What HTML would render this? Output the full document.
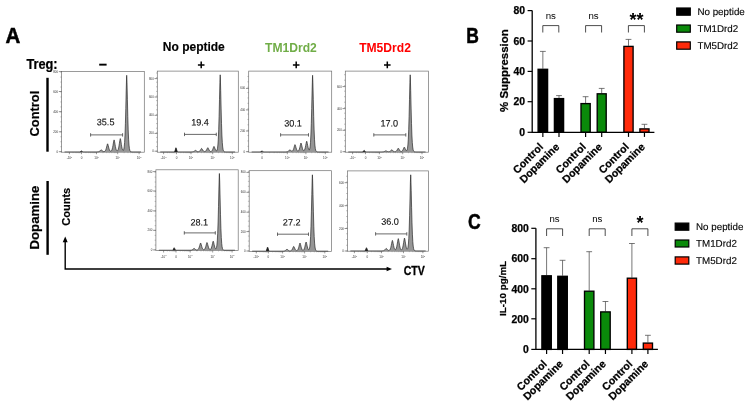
<!DOCTYPE html>
<html><head><meta charset="utf-8"><title>Figure</title>
<style>html,body{margin:0;padding:0;background:#fff;}svg{display:block;will-change:transform;}text{font-family:"Liberation Sans",sans-serif;}</style>
</head><body>
<svg width="751" height="406" viewBox="0 0 751 406">
<rect width="751" height="406" fill="#fff"/>
<rect x="61.6" y="71.6" width="82.7" height="80.6" fill="#fff" stroke="#707070" stroke-width="0.7"/>
<path d="M64.60,152.10 L64.60,151.90 L65.00,151.90 L65.40,151.90 L65.80,151.90 L66.20,151.90 L66.60,151.90 L67.00,151.90 L67.40,151.90 L67.80,151.90 L68.20,151.90 L68.60,151.90 L69.00,151.90 L69.40,151.90 L69.80,151.90 L70.20,151.90 L70.60,151.90 L71.00,151.90 L71.40,151.90 L71.80,151.90 L72.20,151.90 L72.60,151.90 L73.00,151.90 L73.40,151.90 L73.80,151.90 L74.20,151.90 L74.60,151.90 L75.00,151.90 L75.40,151.90 L75.80,151.90 L76.20,151.90 L76.60,151.90 L77.00,151.90 L77.40,151.90 L77.80,151.90 L78.20,151.90 L78.60,151.90 L79.00,151.90 L79.40,151.90 L79.80,151.89 L80.20,151.82 L80.60,151.59 L81.00,151.16 L81.40,150.82 L81.50,150.80 L81.80,150.94 L82.20,151.39 L82.60,151.73 L83.00,151.87 L83.40,151.90 L83.80,151.90 L84.20,151.90 L84.60,151.90 L85.00,151.90 L85.40,151.90 L85.80,151.90 L86.20,151.90 L86.60,151.90 L87.00,151.90 L87.40,151.90 L87.80,151.90 L88.20,151.90 L88.60,151.90 L89.00,151.90 L89.40,151.90 L89.80,151.90 L90.20,151.90 L90.60,151.90 L91.00,151.90 L91.40,151.90 L91.80,151.90 L92.20,151.90 L92.60,151.90 L93.00,151.90 L93.40,151.90 L93.80,151.90 L94.20,151.90 L94.60,151.90 L95.00,151.90 L95.40,151.90 L95.80,151.90 L96.20,151.90 L96.60,151.89 L97.00,151.89 L97.40,151.87 L97.80,151.85 L98.20,151.80 L98.60,151.71 L99.00,151.57 L99.40,151.35 L99.80,151.04 L100.20,150.65 L100.60,150.23 L101.00,149.88 L101.20,149.80 L101.40,149.88 L101.80,150.23 L102.20,150.65 L102.60,151.03 L103.00,151.33 L103.40,151.52 L103.80,151.61 L104.20,151.60 L104.60,151.46 L105.00,151.15 L105.40,150.61 L105.80,149.77 L106.20,148.59 L106.60,147.10 L107.00,145.47 L107.40,144.12 L107.60,143.80 L107.80,144.12 L108.20,145.47 L108.60,147.09 L109.00,148.58 L109.40,149.75 L109.80,150.57 L110.20,151.05 L110.60,151.26 L111.00,151.21 L111.40,150.88 L111.80,150.20 L112.20,149.09 L112.60,147.48 L113.00,145.37 L113.40,142.97 L113.80,140.78 L114.10,139.90 L114.20,140.06 L114.60,141.80 L115.00,144.18 L115.40,146.47 L115.80,148.32 L116.20,149.65 L116.60,150.46 L117.00,150.83 L117.40,150.80 L117.80,150.35 L118.20,149.42 L118.60,147.94 L119.00,145.88 L119.40,143.34 L119.80,140.70 L120.20,138.77 L120.30,138.60 L120.60,139.57 L121.00,142.00 L121.40,144.65 L121.80,146.98 L122.20,148.73 L122.60,149.86 L123.00,150.39 L123.40,150.25 L123.80,149.24 L124.20,146.90 L124.60,142.49 L125.00,135.05 L125.40,123.71 L125.80,108.38 L126.20,90.88 L126.60,76.72 L126.70,75.30 L127.00,82.80 L127.40,99.68 L127.80,116.50 L128.20,129.92 L128.60,139.25 L129.00,145.10 L129.40,148.46 L129.80,150.26 L130.20,151.16 L130.60,151.58 L131.00,151.77 L131.40,151.85 L131.80,151.88 L132.20,151.89 L132.60,151.90 L133.00,151.90 L133.40,151.90 L133.80,151.90 L134.20,151.90 L134.60,151.90 L135.00,151.90 L135.40,151.90 L135.80,151.90 L136.20,151.90 L136.60,151.90 L137.00,151.90 L137.40,151.90 L137.80,151.90 L138.20,151.90 L138.60,151.90 L139.00,151.90 L139.40,151.90 L139.80,151.90 L140.20,151.90 L140.60,151.90 L141.00,151.90 L141.00,152.10 Z" fill="#969696" stroke="none"/>
<path d="M64.60,151.90 L65.00,151.90 L65.40,151.90 L65.80,151.90 L66.20,151.90 L66.60,151.90 L67.00,151.90 L67.40,151.90 L67.80,151.90 L68.20,151.90 L68.60,151.90 L69.00,151.90 L69.40,151.90 L69.80,151.90 L70.20,151.90 L70.60,151.90 L71.00,151.90 L71.40,151.90 L71.80,151.90 L72.20,151.90 L72.60,151.90 L73.00,151.90 L73.40,151.90 L73.80,151.90 L74.20,151.90 L74.60,151.90 L75.00,151.90 L75.40,151.90 L75.80,151.90 L76.20,151.90 L76.60,151.90 L77.00,151.90 L77.40,151.90 L77.80,151.90 L78.20,151.90 L78.60,151.90 L79.00,151.90 L79.40,151.90 L79.80,151.89 L80.20,151.82 L80.60,151.59 L81.00,151.16 L81.40,150.82 L81.50,150.80 L81.80,150.94 L82.20,151.39 L82.60,151.73 L83.00,151.87 L83.40,151.90 L83.80,151.90 L84.20,151.90 L84.60,151.90 L85.00,151.90 L85.40,151.90 L85.80,151.90 L86.20,151.90 L86.60,151.90 L87.00,151.90 L87.40,151.90 L87.80,151.90 L88.20,151.90 L88.60,151.90 L89.00,151.90 L89.40,151.90 L89.80,151.90 L90.20,151.90 L90.60,151.90 L91.00,151.90 L91.40,151.90 L91.80,151.90 L92.20,151.90 L92.60,151.90 L93.00,151.90 L93.40,151.90 L93.80,151.90 L94.20,151.90 L94.60,151.90 L95.00,151.90 L95.40,151.90 L95.80,151.90 L96.20,151.90 L96.60,151.89 L97.00,151.89 L97.40,151.87 L97.80,151.85 L98.20,151.80 L98.60,151.71 L99.00,151.57 L99.40,151.35 L99.80,151.04 L100.20,150.65 L100.60,150.23 L101.00,149.88 L101.20,149.80 L101.40,149.88 L101.80,150.23 L102.20,150.65 L102.60,151.03 L103.00,151.33 L103.40,151.52 L103.80,151.61 L104.20,151.60 L104.60,151.46 L105.00,151.15 L105.40,150.61 L105.80,149.77 L106.20,148.59 L106.60,147.10 L107.00,145.47 L107.40,144.12 L107.60,143.80 L107.80,144.12 L108.20,145.47 L108.60,147.09 L109.00,148.58 L109.40,149.75 L109.80,150.57 L110.20,151.05 L110.60,151.26 L111.00,151.21 L111.40,150.88 L111.80,150.20 L112.20,149.09 L112.60,147.48 L113.00,145.37 L113.40,142.97 L113.80,140.78 L114.10,139.90 L114.20,140.06 L114.60,141.80 L115.00,144.18 L115.40,146.47 L115.80,148.32 L116.20,149.65 L116.60,150.46 L117.00,150.83 L117.40,150.80 L117.80,150.35 L118.20,149.42 L118.60,147.94 L119.00,145.88 L119.40,143.34 L119.80,140.70 L120.20,138.77 L120.30,138.60 L120.60,139.57 L121.00,142.00 L121.40,144.65 L121.80,146.98 L122.20,148.73 L122.60,149.86 L123.00,150.39 L123.40,150.25 L123.80,149.24 L124.20,146.90 L124.60,142.49 L125.00,135.05 L125.40,123.71 L125.80,108.38 L126.20,90.88 L126.60,76.72 L126.70,75.30 L127.00,82.80 L127.40,99.68 L127.80,116.50 L128.20,129.92 L128.60,139.25 L129.00,145.10 L129.40,148.46 L129.80,150.26 L130.20,151.16 L130.60,151.58 L131.00,151.77 L131.40,151.85 L131.80,151.88 L132.20,151.89 L132.60,151.90 L133.00,151.90 L133.40,151.90 L133.80,151.90 L134.20,151.90 L134.60,151.90 L135.00,151.90 L135.40,151.90 L135.80,151.90 L136.20,151.90 L136.60,151.90 L137.00,151.90 L137.40,151.90 L137.80,151.90 L138.20,151.90 L138.60,151.90 L139.00,151.90 L139.40,151.90 L139.80,151.90 L140.20,151.90 L140.60,151.90 L141.00,151.90" fill="none" stroke="#1e1e1e" stroke-width="0.65" stroke-linejoin="round"/>
<path d="M79.9,152.1 L81.2,151.0 L82.0,151.8 L83.1,152.1 Z" fill="#222"/>
<line x1="58.800000000000004" y1="71.6" x2="61.6" y2="71.6" stroke="#444" stroke-width="0.6"/>
<text x="58.1" y="72.6" font-family="Liberation Sans, sans-serif" font-size="2.9" fill="#333" text-anchor="end">800</text>
<line x1="58.800000000000004" y1="91.5" x2="61.6" y2="91.5" stroke="#444" stroke-width="0.6"/>
<text x="58.1" y="92.5" font-family="Liberation Sans, sans-serif" font-size="2.9" fill="#333" text-anchor="end">600</text>
<line x1="58.800000000000004" y1="111.7" x2="61.6" y2="111.7" stroke="#444" stroke-width="0.6"/>
<text x="58.1" y="112.7" font-family="Liberation Sans, sans-serif" font-size="2.9" fill="#333" text-anchor="end">400</text>
<line x1="58.800000000000004" y1="131.8" x2="61.6" y2="131.8" stroke="#444" stroke-width="0.6"/>
<text x="58.1" y="132.8" font-family="Liberation Sans, sans-serif" font-size="2.9" fill="#333" text-anchor="end">200</text>
<line x1="58.800000000000004" y1="151.7" x2="61.6" y2="151.7" stroke="#444" stroke-width="0.6"/>
<text x="58.1" y="152.7" font-family="Liberation Sans, sans-serif" font-size="2.9" fill="#333" text-anchor="end">0</text>
<line x1="60.300000000000004" y1="151.70" x2="61.6" y2="151.70" stroke="#666" stroke-width="0.4"/>
<line x1="60.300000000000004" y1="146.72" x2="61.6" y2="146.72" stroke="#666" stroke-width="0.4"/>
<line x1="60.300000000000004" y1="141.75" x2="61.6" y2="141.75" stroke="#666" stroke-width="0.4"/>
<line x1="60.300000000000004" y1="136.78" x2="61.6" y2="136.78" stroke="#666" stroke-width="0.4"/>
<line x1="60.300000000000004" y1="131.80" x2="61.6" y2="131.80" stroke="#666" stroke-width="0.4"/>
<line x1="60.300000000000004" y1="126.83" x2="61.6" y2="126.83" stroke="#666" stroke-width="0.4"/>
<line x1="60.300000000000004" y1="121.85" x2="61.6" y2="121.85" stroke="#666" stroke-width="0.4"/>
<line x1="60.300000000000004" y1="116.88" x2="61.6" y2="116.88" stroke="#666" stroke-width="0.4"/>
<line x1="60.300000000000004" y1="111.90" x2="61.6" y2="111.90" stroke="#666" stroke-width="0.4"/>
<line x1="60.300000000000004" y1="106.93" x2="61.6" y2="106.93" stroke="#666" stroke-width="0.4"/>
<line x1="60.300000000000004" y1="101.95" x2="61.6" y2="101.95" stroke="#666" stroke-width="0.4"/>
<line x1="60.300000000000004" y1="96.98" x2="61.6" y2="96.98" stroke="#666" stroke-width="0.4"/>
<line x1="60.300000000000004" y1="92.00" x2="61.6" y2="92.00" stroke="#666" stroke-width="0.4"/>
<line x1="60.300000000000004" y1="87.03" x2="61.6" y2="87.03" stroke="#666" stroke-width="0.4"/>
<line x1="60.300000000000004" y1="82.05" x2="61.6" y2="82.05" stroke="#666" stroke-width="0.4"/>
<line x1="60.300000000000004" y1="77.08" x2="61.6" y2="77.08" stroke="#666" stroke-width="0.4"/>
<line x1="60.300000000000004" y1="72.10" x2="61.6" y2="72.10" stroke="#666" stroke-width="0.4"/>
<line x1="69.4" y1="152.2" x2="69.4" y2="154.2" stroke="#444" stroke-width="0.55"/>
<text x="69.4" y="159.2" font-family="Liberation Sans, sans-serif" font-size="3" fill="#333" text-anchor="middle">-10<tspan dy="-1.1" font-size="2">3</tspan></text>
<line x1="81.5" y1="152.2" x2="81.5" y2="154.2" stroke="#444" stroke-width="0.55"/>
<text x="81.5" y="159.2" font-family="Liberation Sans, sans-serif" font-size="3" fill="#333" text-anchor="middle">0</text>
<line x1="96.5" y1="152.2" x2="96.5" y2="154.2" stroke="#444" stroke-width="0.55"/>
<text x="96.5" y="159.2" font-family="Liberation Sans, sans-serif" font-size="3" fill="#333" text-anchor="middle">10<tspan dy="-1.1" font-size="2">3</tspan></text>
<line x1="117.7" y1="152.2" x2="117.7" y2="154.2" stroke="#444" stroke-width="0.55"/>
<text x="117.7" y="159.2" font-family="Liberation Sans, sans-serif" font-size="3" fill="#333" text-anchor="middle">10<tspan dy="-1.1" font-size="2">4</tspan></text>
<line x1="139.1" y1="152.2" x2="139.1" y2="154.2" stroke="#444" stroke-width="0.55"/>
<text x="139.1" y="159.2" font-family="Liberation Sans, sans-serif" font-size="3" fill="#333" text-anchor="middle">10<tspan dy="-1.1" font-size="2">5</tspan></text>
<line x1="73.03" y1="152.2" x2="73.03" y2="153.2" stroke="#666" stroke-width="0.35"/>
<line x1="75.21" y1="152.2" x2="75.21" y2="153.2" stroke="#666" stroke-width="0.35"/>
<line x1="76.66" y1="152.2" x2="76.66" y2="153.2" stroke="#666" stroke-width="0.35"/>
<line x1="77.87" y1="152.2" x2="77.87" y2="153.2" stroke="#666" stroke-width="0.35"/>
<line x1="78.84" y1="152.2" x2="78.84" y2="153.2" stroke="#666" stroke-width="0.35"/>
<line x1="79.69" y1="152.2" x2="79.69" y2="153.2" stroke="#666" stroke-width="0.35"/>
<line x1="80.29" y1="152.2" x2="80.29" y2="153.2" stroke="#666" stroke-width="0.35"/>
<line x1="80.89" y1="152.2" x2="80.89" y2="153.2" stroke="#666" stroke-width="0.35"/>
<line x1="86.00" y1="152.2" x2="86.00" y2="153.2" stroke="#666" stroke-width="0.35"/>
<line x1="88.70" y1="152.2" x2="88.70" y2="153.2" stroke="#666" stroke-width="0.35"/>
<line x1="90.50" y1="152.2" x2="90.50" y2="153.2" stroke="#666" stroke-width="0.35"/>
<line x1="92.00" y1="152.2" x2="92.00" y2="153.2" stroke="#666" stroke-width="0.35"/>
<line x1="93.20" y1="152.2" x2="93.20" y2="153.2" stroke="#666" stroke-width="0.35"/>
<line x1="94.25" y1="152.2" x2="94.25" y2="153.2" stroke="#666" stroke-width="0.35"/>
<line x1="95.00" y1="152.2" x2="95.00" y2="153.2" stroke="#666" stroke-width="0.35"/>
<line x1="95.75" y1="152.2" x2="95.75" y2="153.2" stroke="#666" stroke-width="0.35"/>
<line x1="102.86" y1="152.2" x2="102.86" y2="153.2" stroke="#666" stroke-width="0.35"/>
<line x1="106.68" y1="152.2" x2="106.68" y2="153.2" stroke="#666" stroke-width="0.35"/>
<line x1="109.22" y1="152.2" x2="109.22" y2="153.2" stroke="#666" stroke-width="0.35"/>
<line x1="111.34" y1="152.2" x2="111.34" y2="153.2" stroke="#666" stroke-width="0.35"/>
<line x1="113.04" y1="152.2" x2="113.04" y2="153.2" stroke="#666" stroke-width="0.35"/>
<line x1="114.52" y1="152.2" x2="114.52" y2="153.2" stroke="#666" stroke-width="0.35"/>
<line x1="115.58" y1="152.2" x2="115.58" y2="153.2" stroke="#666" stroke-width="0.35"/>
<line x1="116.64" y1="152.2" x2="116.64" y2="153.2" stroke="#666" stroke-width="0.35"/>
<line x1="124.12" y1="152.2" x2="124.12" y2="153.2" stroke="#666" stroke-width="0.35"/>
<line x1="127.97" y1="152.2" x2="127.97" y2="153.2" stroke="#666" stroke-width="0.35"/>
<line x1="130.54" y1="152.2" x2="130.54" y2="153.2" stroke="#666" stroke-width="0.35"/>
<line x1="132.68" y1="152.2" x2="132.68" y2="153.2" stroke="#666" stroke-width="0.35"/>
<line x1="134.39" y1="152.2" x2="134.39" y2="153.2" stroke="#666" stroke-width="0.35"/>
<line x1="135.89" y1="152.2" x2="135.89" y2="153.2" stroke="#666" stroke-width="0.35"/>
<line x1="136.96" y1="152.2" x2="136.96" y2="153.2" stroke="#666" stroke-width="0.35"/>
<line x1="138.03" y1="152.2" x2="138.03" y2="153.2" stroke="#666" stroke-width="0.35"/>
<path d="M90.6,133.20000000000002V136.6M90.6,134.9H122.6M122.6,133.20000000000002V136.6" stroke="#444" stroke-width="0.8" fill="none"/>
<text transform="translate(105.6,125.3) rotate(0.03) scale(0.98,1)" font-family="Liberation Sans, sans-serif" font-size="9.3" fill="#111" stroke="#111" stroke-width="0.12" text-anchor="middle">35.5</text>
<rect x="157.3" y="71.1" width="81.0" height="81.1" fill="#fff" stroke="#707070" stroke-width="0.7"/>
<path d="M160.30,152.10 L160.30,151.90 L160.70,151.90 L161.10,151.90 L161.50,151.90 L161.90,151.90 L162.30,151.90 L162.70,151.90 L163.10,151.90 L163.50,151.90 L163.90,151.90 L164.30,151.90 L164.70,151.90 L165.10,151.90 L165.50,151.90 L165.90,151.90 L166.30,151.90 L166.70,151.90 L167.10,151.90 L167.50,151.90 L167.90,151.90 L168.30,151.90 L168.70,151.90 L169.10,151.90 L169.50,151.90 L169.90,151.90 L170.30,151.90 L170.70,151.90 L171.10,151.90 L171.50,151.90 L171.90,151.90 L172.30,151.90 L172.70,151.90 L173.10,151.90 L173.50,151.90 L173.90,151.90 L174.30,151.85 L174.70,151.60 L175.10,150.72 L175.50,149.06 L175.90,147.77 L176.00,147.70 L176.30,148.25 L176.70,149.95 L177.10,151.27 L177.50,151.78 L177.90,151.89 L178.30,151.90 L178.70,151.90 L179.10,151.90 L179.50,151.90 L179.90,151.90 L180.30,151.90 L180.70,151.90 L181.10,151.90 L181.50,151.90 L181.90,151.90 L182.30,151.90 L182.70,151.90 L183.10,151.90 L183.50,151.90 L183.90,151.90 L184.30,151.90 L184.70,151.90 L185.10,151.90 L185.50,151.90 L185.90,151.90 L186.30,151.90 L186.70,151.90 L187.10,151.90 L187.50,151.90 L187.90,151.90 L188.30,151.90 L188.70,151.90 L189.10,151.90 L189.50,151.90 L189.90,151.90 L190.30,151.90 L190.70,151.90 L191.10,151.89 L191.50,151.89 L191.90,151.87 L192.30,151.85 L192.70,151.80 L193.10,151.72 L193.50,151.59 L193.90,151.41 L194.30,151.15 L194.70,150.86 L195.10,150.57 L195.50,150.40 L195.90,150.57 L196.30,150.86 L196.70,151.15 L197.10,151.39 L197.50,151.57 L197.90,151.67 L198.30,151.70 L198.70,151.65 L199.10,151.51 L199.50,151.26 L199.90,150.86 L200.30,150.32 L200.70,149.65 L201.10,148.95 L201.50,148.45 L201.60,148.40 L201.90,148.66 L202.30,149.29 L202.70,149.99 L203.10,150.60 L203.50,151.07 L203.90,151.38 L204.30,151.54 L204.70,151.58 L205.10,151.50 L205.50,151.29 L205.90,150.91 L206.30,150.35 L206.70,149.61 L207.10,148.77 L207.50,148.01 L207.80,147.70 L207.90,147.75 L208.30,148.36 L208.70,149.20 L209.10,150.00 L209.50,150.65 L209.90,151.11 L210.30,151.38 L210.70,151.50 L211.10,151.47 L211.50,151.27 L211.90,150.88 L212.30,150.27 L212.70,149.41 L213.10,148.36 L213.50,147.27 L213.90,146.47 L214.00,146.40 L214.30,146.80 L214.70,147.80 L215.10,148.89 L215.50,149.83 L215.90,150.49 L216.30,150.82 L216.70,150.73 L217.10,150.03 L217.50,148.33 L217.90,145.00 L218.30,139.14 L218.70,129.76 L219.10,116.26 L219.50,99.33 L219.90,82.35 L220.20,74.80 L220.30,76.23 L220.70,90.48 L221.10,108.10 L221.50,123.54 L221.90,134.96 L222.30,142.49 L222.70,147.00 L223.10,149.50 L223.50,150.79 L223.90,151.41 L224.30,151.70 L224.70,151.82 L225.10,151.87 L225.50,151.89 L225.90,151.90 L226.30,151.90 L226.70,151.90 L227.10,151.90 L227.50,151.90 L227.90,151.90 L228.30,151.90 L228.70,151.90 L229.10,151.90 L229.50,151.90 L229.90,151.90 L230.30,151.90 L230.70,151.90 L231.10,151.90 L231.50,151.90 L231.90,151.90 L232.30,151.90 L232.70,151.90 L233.10,151.90 L233.50,151.90 L233.90,151.90 L234.30,151.90 L234.70,151.90 L235.10,151.90 L235.10,152.10 Z" fill="#969696" stroke="none"/>
<path d="M160.30,151.90 L160.70,151.90 L161.10,151.90 L161.50,151.90 L161.90,151.90 L162.30,151.90 L162.70,151.90 L163.10,151.90 L163.50,151.90 L163.90,151.90 L164.30,151.90 L164.70,151.90 L165.10,151.90 L165.50,151.90 L165.90,151.90 L166.30,151.90 L166.70,151.90 L167.10,151.90 L167.50,151.90 L167.90,151.90 L168.30,151.90 L168.70,151.90 L169.10,151.90 L169.50,151.90 L169.90,151.90 L170.30,151.90 L170.70,151.90 L171.10,151.90 L171.50,151.90 L171.90,151.90 L172.30,151.90 L172.70,151.90 L173.10,151.90 L173.50,151.90 L173.90,151.90 L174.30,151.85 L174.70,151.60 L175.10,150.72 L175.50,149.06 L175.90,147.77 L176.00,147.70 L176.30,148.25 L176.70,149.95 L177.10,151.27 L177.50,151.78 L177.90,151.89 L178.30,151.90 L178.70,151.90 L179.10,151.90 L179.50,151.90 L179.90,151.90 L180.30,151.90 L180.70,151.90 L181.10,151.90 L181.50,151.90 L181.90,151.90 L182.30,151.90 L182.70,151.90 L183.10,151.90 L183.50,151.90 L183.90,151.90 L184.30,151.90 L184.70,151.90 L185.10,151.90 L185.50,151.90 L185.90,151.90 L186.30,151.90 L186.70,151.90 L187.10,151.90 L187.50,151.90 L187.90,151.90 L188.30,151.90 L188.70,151.90 L189.10,151.90 L189.50,151.90 L189.90,151.90 L190.30,151.90 L190.70,151.90 L191.10,151.89 L191.50,151.89 L191.90,151.87 L192.30,151.85 L192.70,151.80 L193.10,151.72 L193.50,151.59 L193.90,151.41 L194.30,151.15 L194.70,150.86 L195.10,150.57 L195.50,150.40 L195.90,150.57 L196.30,150.86 L196.70,151.15 L197.10,151.39 L197.50,151.57 L197.90,151.67 L198.30,151.70 L198.70,151.65 L199.10,151.51 L199.50,151.26 L199.90,150.86 L200.30,150.32 L200.70,149.65 L201.10,148.95 L201.50,148.45 L201.60,148.40 L201.90,148.66 L202.30,149.29 L202.70,149.99 L203.10,150.60 L203.50,151.07 L203.90,151.38 L204.30,151.54 L204.70,151.58 L205.10,151.50 L205.50,151.29 L205.90,150.91 L206.30,150.35 L206.70,149.61 L207.10,148.77 L207.50,148.01 L207.80,147.70 L207.90,147.75 L208.30,148.36 L208.70,149.20 L209.10,150.00 L209.50,150.65 L209.90,151.11 L210.30,151.38 L210.70,151.50 L211.10,151.47 L211.50,151.27 L211.90,150.88 L212.30,150.27 L212.70,149.41 L213.10,148.36 L213.50,147.27 L213.90,146.47 L214.00,146.40 L214.30,146.80 L214.70,147.80 L215.10,148.89 L215.50,149.83 L215.90,150.49 L216.30,150.82 L216.70,150.73 L217.10,150.03 L217.50,148.33 L217.90,145.00 L218.30,139.14 L218.70,129.76 L219.10,116.26 L219.50,99.33 L219.90,82.35 L220.20,74.80 L220.30,76.23 L220.70,90.48 L221.10,108.10 L221.50,123.54 L221.90,134.96 L222.30,142.49 L222.70,147.00 L223.10,149.50 L223.50,150.79 L223.90,151.41 L224.30,151.70 L224.70,151.82 L225.10,151.87 L225.50,151.89 L225.90,151.90 L226.30,151.90 L226.70,151.90 L227.10,151.90 L227.50,151.90 L227.90,151.90 L228.30,151.90 L228.70,151.90 L229.10,151.90 L229.50,151.90 L229.90,151.90 L230.30,151.90 L230.70,151.90 L231.10,151.90 L231.50,151.90 L231.90,151.90 L232.30,151.90 L232.70,151.90 L233.10,151.90 L233.50,151.90 L233.90,151.90 L234.30,151.90 L234.70,151.90 L235.10,151.90" fill="none" stroke="#1e1e1e" stroke-width="0.65" stroke-linejoin="round"/>
<path d="M174.4,152.1 L175.7,147.9 L176.5,148.70000000000002 L177.6,152.1 Z" fill="#222"/>
<line x1="154.5" y1="78.6" x2="157.3" y2="78.6" stroke="#444" stroke-width="0.6"/>
<text x="153.8" y="79.6" font-family="Liberation Sans, sans-serif" font-size="2.9" fill="#333" text-anchor="end">800</text>
<line x1="154.5" y1="97.0" x2="157.3" y2="97.0" stroke="#444" stroke-width="0.6"/>
<text x="153.8" y="98.0" font-family="Liberation Sans, sans-serif" font-size="2.9" fill="#333" text-anchor="end">600</text>
<line x1="154.5" y1="115.3" x2="157.3" y2="115.3" stroke="#444" stroke-width="0.6"/>
<text x="153.8" y="116.3" font-family="Liberation Sans, sans-serif" font-size="2.9" fill="#333" text-anchor="end">400</text>
<line x1="154.5" y1="133.4" x2="157.3" y2="133.4" stroke="#444" stroke-width="0.6"/>
<text x="153.8" y="134.4" font-family="Liberation Sans, sans-serif" font-size="2.9" fill="#333" text-anchor="end">200</text>
<line x1="154.5" y1="151.2" x2="157.3" y2="151.2" stroke="#444" stroke-width="0.6"/>
<text x="153.8" y="152.2" font-family="Liberation Sans, sans-serif" font-size="2.9" fill="#333" text-anchor="end">0</text>
<line x1="156.0" y1="151.20" x2="157.3" y2="151.20" stroke="#666" stroke-width="0.4"/>
<line x1="156.0" y1="146.60" x2="157.3" y2="146.60" stroke="#666" stroke-width="0.4"/>
<line x1="156.0" y1="142.00" x2="157.3" y2="142.00" stroke="#666" stroke-width="0.4"/>
<line x1="156.0" y1="137.40" x2="157.3" y2="137.40" stroke="#666" stroke-width="0.4"/>
<line x1="156.0" y1="132.80" x2="157.3" y2="132.80" stroke="#666" stroke-width="0.4"/>
<line x1="156.0" y1="128.20" x2="157.3" y2="128.20" stroke="#666" stroke-width="0.4"/>
<line x1="156.0" y1="123.60" x2="157.3" y2="123.60" stroke="#666" stroke-width="0.4"/>
<line x1="156.0" y1="119.00" x2="157.3" y2="119.00" stroke="#666" stroke-width="0.4"/>
<line x1="156.0" y1="114.40" x2="157.3" y2="114.40" stroke="#666" stroke-width="0.4"/>
<line x1="156.0" y1="109.80" x2="157.3" y2="109.80" stroke="#666" stroke-width="0.4"/>
<line x1="156.0" y1="105.20" x2="157.3" y2="105.20" stroke="#666" stroke-width="0.4"/>
<line x1="156.0" y1="100.60" x2="157.3" y2="100.60" stroke="#666" stroke-width="0.4"/>
<line x1="156.0" y1="96.00" x2="157.3" y2="96.00" stroke="#666" stroke-width="0.4"/>
<line x1="156.0" y1="91.40" x2="157.3" y2="91.40" stroke="#666" stroke-width="0.4"/>
<line x1="156.0" y1="86.80" x2="157.3" y2="86.80" stroke="#666" stroke-width="0.4"/>
<line x1="156.0" y1="82.20" x2="157.3" y2="82.20" stroke="#666" stroke-width="0.4"/>
<line x1="156.0" y1="77.60" x2="157.3" y2="77.60" stroke="#666" stroke-width="0.4"/>
<line x1="156.0" y1="73.00" x2="157.3" y2="73.00" stroke="#666" stroke-width="0.4"/>
<line x1="163.6" y1="152.2" x2="163.6" y2="154.2" stroke="#444" stroke-width="0.55"/>
<text x="163.6" y="159.2" font-family="Liberation Sans, sans-serif" font-size="3" fill="#333" text-anchor="middle">-10<tspan dy="-1.1" font-size="2">3</tspan></text>
<line x1="176.5" y1="152.2" x2="176.5" y2="154.2" stroke="#444" stroke-width="0.55"/>
<text x="176.5" y="159.2" font-family="Liberation Sans, sans-serif" font-size="3" fill="#333" text-anchor="middle">0</text>
<line x1="191.0" y1="152.2" x2="191.0" y2="154.2" stroke="#444" stroke-width="0.55"/>
<text x="191.0" y="159.2" font-family="Liberation Sans, sans-serif" font-size="3" fill="#333" text-anchor="middle">10<tspan dy="-1.1" font-size="2">3</tspan></text>
<line x1="212.7" y1="152.2" x2="212.7" y2="154.2" stroke="#444" stroke-width="0.55"/>
<text x="212.7" y="159.2" font-family="Liberation Sans, sans-serif" font-size="3" fill="#333" text-anchor="middle">10<tspan dy="-1.1" font-size="2">4</tspan></text>
<line x1="232.3" y1="152.2" x2="232.3" y2="154.2" stroke="#444" stroke-width="0.55"/>
<text x="232.3" y="159.2" font-family="Liberation Sans, sans-serif" font-size="3" fill="#333" text-anchor="middle">10<tspan dy="-1.1" font-size="2">5</tspan></text>
<line x1="167.47" y1="152.2" x2="167.47" y2="153.2" stroke="#666" stroke-width="0.35"/>
<line x1="169.79" y1="152.2" x2="169.79" y2="153.2" stroke="#666" stroke-width="0.35"/>
<line x1="171.34" y1="152.2" x2="171.34" y2="153.2" stroke="#666" stroke-width="0.35"/>
<line x1="172.63" y1="152.2" x2="172.63" y2="153.2" stroke="#666" stroke-width="0.35"/>
<line x1="173.66" y1="152.2" x2="173.66" y2="153.2" stroke="#666" stroke-width="0.35"/>
<line x1="174.56" y1="152.2" x2="174.56" y2="153.2" stroke="#666" stroke-width="0.35"/>
<line x1="175.21" y1="152.2" x2="175.21" y2="153.2" stroke="#666" stroke-width="0.35"/>
<line x1="175.85" y1="152.2" x2="175.85" y2="153.2" stroke="#666" stroke-width="0.35"/>
<line x1="180.85" y1="152.2" x2="180.85" y2="153.2" stroke="#666" stroke-width="0.35"/>
<line x1="183.46" y1="152.2" x2="183.46" y2="153.2" stroke="#666" stroke-width="0.35"/>
<line x1="185.20" y1="152.2" x2="185.20" y2="153.2" stroke="#666" stroke-width="0.35"/>
<line x1="186.65" y1="152.2" x2="186.65" y2="153.2" stroke="#666" stroke-width="0.35"/>
<line x1="187.81" y1="152.2" x2="187.81" y2="153.2" stroke="#666" stroke-width="0.35"/>
<line x1="188.82" y1="152.2" x2="188.82" y2="153.2" stroke="#666" stroke-width="0.35"/>
<line x1="189.55" y1="152.2" x2="189.55" y2="153.2" stroke="#666" stroke-width="0.35"/>
<line x1="190.28" y1="152.2" x2="190.28" y2="153.2" stroke="#666" stroke-width="0.35"/>
<line x1="197.51" y1="152.2" x2="197.51" y2="153.2" stroke="#666" stroke-width="0.35"/>
<line x1="201.42" y1="152.2" x2="201.42" y2="153.2" stroke="#666" stroke-width="0.35"/>
<line x1="204.02" y1="152.2" x2="204.02" y2="153.2" stroke="#666" stroke-width="0.35"/>
<line x1="206.19" y1="152.2" x2="206.19" y2="153.2" stroke="#666" stroke-width="0.35"/>
<line x1="207.93" y1="152.2" x2="207.93" y2="153.2" stroke="#666" stroke-width="0.35"/>
<line x1="209.44" y1="152.2" x2="209.44" y2="153.2" stroke="#666" stroke-width="0.35"/>
<line x1="210.53" y1="152.2" x2="210.53" y2="153.2" stroke="#666" stroke-width="0.35"/>
<line x1="211.61" y1="152.2" x2="211.61" y2="153.2" stroke="#666" stroke-width="0.35"/>
<line x1="218.58" y1="152.2" x2="218.58" y2="153.2" stroke="#666" stroke-width="0.35"/>
<line x1="222.11" y1="152.2" x2="222.11" y2="153.2" stroke="#666" stroke-width="0.35"/>
<line x1="224.46" y1="152.2" x2="224.46" y2="153.2" stroke="#666" stroke-width="0.35"/>
<line x1="226.42" y1="152.2" x2="226.42" y2="153.2" stroke="#666" stroke-width="0.35"/>
<line x1="227.99" y1="152.2" x2="227.99" y2="153.2" stroke="#666" stroke-width="0.35"/>
<line x1="229.36" y1="152.2" x2="229.36" y2="153.2" stroke="#666" stroke-width="0.35"/>
<line x1="230.34" y1="152.2" x2="230.34" y2="153.2" stroke="#666" stroke-width="0.35"/>
<line x1="231.32" y1="152.2" x2="231.32" y2="153.2" stroke="#666" stroke-width="0.35"/>
<path d="M184.5,132.70000000000002V136.1M184.5,134.4H216.3M216.3,132.70000000000002V136.1" stroke="#444" stroke-width="0.8" fill="none"/>
<text transform="translate(200.0,125.6) rotate(0.03) scale(0.98,1)" font-family="Liberation Sans, sans-serif" font-size="9.3" fill="#111" stroke="#111" stroke-width="0.12" text-anchor="middle">19.4</text>
<rect x="248.7" y="71.1" width="83.0" height="81.1" fill="#fff" stroke="#707070" stroke-width="0.7"/>
<path d="M251.70,152.10 L251.70,151.90 L252.10,151.90 L252.50,151.90 L252.90,151.90 L253.30,151.90 L253.70,151.90 L254.10,151.90 L254.50,151.90 L254.90,151.90 L255.30,151.90 L255.70,151.90 L256.10,151.90 L256.50,151.90 L256.90,151.90 L257.30,151.90 L257.70,151.90 L258.10,151.90 L258.50,151.90 L258.90,151.90 L259.30,151.90 L259.70,151.90 L260.10,151.90 L260.50,151.87 L260.90,151.73 L261.30,151.39 L261.70,150.94 L262.00,150.80 L262.10,150.82 L262.50,151.16 L262.90,151.59 L263.30,151.82 L263.70,151.89 L264.10,151.90 L264.50,151.90 L264.90,151.90 L265.30,151.90 L265.70,151.90 L266.10,151.90 L266.50,151.90 L266.90,151.90 L267.30,151.90 L267.70,151.90 L268.10,151.90 L268.50,151.90 L268.90,151.90 L269.30,151.90 L269.70,151.90 L270.10,151.90 L270.50,151.90 L270.90,151.90 L271.30,151.90 L271.70,151.90 L272.10,151.90 L272.50,151.90 L272.90,151.90 L273.30,151.90 L273.70,151.90 L274.10,151.90 L274.50,151.90 L274.90,151.90 L275.30,151.90 L275.70,151.90 L276.10,151.90 L276.50,151.90 L276.90,151.90 L277.30,151.90 L277.70,151.90 L278.10,151.90 L278.50,151.90 L278.90,151.90 L279.30,151.90 L279.70,151.90 L280.10,151.90 L280.50,151.90 L280.90,151.90 L281.30,151.90 L281.70,151.90 L282.10,151.90 L282.50,151.90 L282.90,151.90 L283.30,151.90 L283.70,151.90 L284.10,151.90 L284.50,151.90 L284.90,151.90 L285.30,151.89 L285.70,151.89 L286.10,151.87 L286.50,151.85 L286.90,151.80 L287.30,151.71 L287.70,151.57 L288.10,151.35 L288.50,151.04 L288.90,150.65 L289.30,150.23 L289.70,149.88 L289.90,149.79 L290.10,149.87 L290.50,150.21 L290.90,150.61 L291.30,150.94 L291.70,151.14 L292.10,151.16 L292.50,150.95 L292.90,150.48 L293.30,149.70 L293.70,148.58 L294.10,147.19 L294.50,145.75 L294.90,144.69 L295.00,144.60 L295.30,145.13 L295.70,146.46 L296.10,147.92 L296.50,149.19 L296.90,150.14 L297.30,150.77 L297.70,151.08 L298.10,151.10 L298.50,150.82 L298.90,150.22 L299.30,149.24 L299.70,147.87 L300.10,146.17 L300.50,144.41 L300.90,143.11 L301.00,143.00 L301.30,143.65 L301.70,145.27 L302.10,147.03 L302.50,148.57 L302.90,149.70 L303.30,150.41 L303.70,150.70 L304.10,150.58 L304.50,150.03 L304.90,149.01 L305.30,147.49 L305.70,145.54 L306.10,143.40 L306.50,141.61 L306.70,141.20 L306.90,141.61 L307.30,143.39 L307.70,145.52 L308.10,147.45 L308.50,148.89 L308.90,149.72 L309.30,149.83 L309.70,149.00 L310.10,146.77 L310.50,142.42 L310.90,135.01 L311.30,123.69 L311.70,108.38 L312.10,90.88 L312.50,76.72 L312.60,75.30 L312.90,82.80 L313.30,99.68 L313.70,116.50 L314.10,129.92 L314.50,139.25 L314.90,145.10 L315.30,148.46 L315.70,150.26 L316.10,151.16 L316.50,151.58 L316.90,151.77 L317.30,151.85 L317.70,151.88 L318.10,151.89 L318.50,151.90 L318.90,151.90 L319.30,151.90 L319.70,151.90 L320.10,151.90 L320.50,151.90 L320.90,151.90 L321.30,151.90 L321.70,151.90 L322.10,151.90 L322.50,151.90 L322.90,151.90 L323.30,151.90 L323.70,151.90 L324.10,151.90 L324.50,151.90 L324.90,151.90 L325.30,151.90 L325.70,151.90 L326.10,151.90 L326.50,151.90 L326.90,151.90 L327.30,151.90 L327.70,151.90 L328.10,151.90 L328.50,151.90 L328.50,152.10 Z" fill="#969696" stroke="none"/>
<path d="M251.70,151.90 L252.10,151.90 L252.50,151.90 L252.90,151.90 L253.30,151.90 L253.70,151.90 L254.10,151.90 L254.50,151.90 L254.90,151.90 L255.30,151.90 L255.70,151.90 L256.10,151.90 L256.50,151.90 L256.90,151.90 L257.30,151.90 L257.70,151.90 L258.10,151.90 L258.50,151.90 L258.90,151.90 L259.30,151.90 L259.70,151.90 L260.10,151.90 L260.50,151.87 L260.90,151.73 L261.30,151.39 L261.70,150.94 L262.00,150.80 L262.10,150.82 L262.50,151.16 L262.90,151.59 L263.30,151.82 L263.70,151.89 L264.10,151.90 L264.50,151.90 L264.90,151.90 L265.30,151.90 L265.70,151.90 L266.10,151.90 L266.50,151.90 L266.90,151.90 L267.30,151.90 L267.70,151.90 L268.10,151.90 L268.50,151.90 L268.90,151.90 L269.30,151.90 L269.70,151.90 L270.10,151.90 L270.50,151.90 L270.90,151.90 L271.30,151.90 L271.70,151.90 L272.10,151.90 L272.50,151.90 L272.90,151.90 L273.30,151.90 L273.70,151.90 L274.10,151.90 L274.50,151.90 L274.90,151.90 L275.30,151.90 L275.70,151.90 L276.10,151.90 L276.50,151.90 L276.90,151.90 L277.30,151.90 L277.70,151.90 L278.10,151.90 L278.50,151.90 L278.90,151.90 L279.30,151.90 L279.70,151.90 L280.10,151.90 L280.50,151.90 L280.90,151.90 L281.30,151.90 L281.70,151.90 L282.10,151.90 L282.50,151.90 L282.90,151.90 L283.30,151.90 L283.70,151.90 L284.10,151.90 L284.50,151.90 L284.90,151.90 L285.30,151.89 L285.70,151.89 L286.10,151.87 L286.50,151.85 L286.90,151.80 L287.30,151.71 L287.70,151.57 L288.10,151.35 L288.50,151.04 L288.90,150.65 L289.30,150.23 L289.70,149.88 L289.90,149.79 L290.10,149.87 L290.50,150.21 L290.90,150.61 L291.30,150.94 L291.70,151.14 L292.10,151.16 L292.50,150.95 L292.90,150.48 L293.30,149.70 L293.70,148.58 L294.10,147.19 L294.50,145.75 L294.90,144.69 L295.00,144.60 L295.30,145.13 L295.70,146.46 L296.10,147.92 L296.50,149.19 L296.90,150.14 L297.30,150.77 L297.70,151.08 L298.10,151.10 L298.50,150.82 L298.90,150.22 L299.30,149.24 L299.70,147.87 L300.10,146.17 L300.50,144.41 L300.90,143.11 L301.00,143.00 L301.30,143.65 L301.70,145.27 L302.10,147.03 L302.50,148.57 L302.90,149.70 L303.30,150.41 L303.70,150.70 L304.10,150.58 L304.50,150.03 L304.90,149.01 L305.30,147.49 L305.70,145.54 L306.10,143.40 L306.50,141.61 L306.70,141.20 L306.90,141.61 L307.30,143.39 L307.70,145.52 L308.10,147.45 L308.50,148.89 L308.90,149.72 L309.30,149.83 L309.70,149.00 L310.10,146.77 L310.50,142.42 L310.90,135.01 L311.30,123.69 L311.70,108.38 L312.10,90.88 L312.50,76.72 L312.60,75.30 L312.90,82.80 L313.30,99.68 L313.70,116.50 L314.10,129.92 L314.50,139.25 L314.90,145.10 L315.30,148.46 L315.70,150.26 L316.10,151.16 L316.50,151.58 L316.90,151.77 L317.30,151.85 L317.70,151.88 L318.10,151.89 L318.50,151.90 L318.90,151.90 L319.30,151.90 L319.70,151.90 L320.10,151.90 L320.50,151.90 L320.90,151.90 L321.30,151.90 L321.70,151.90 L322.10,151.90 L322.50,151.90 L322.90,151.90 L323.30,151.90 L323.70,151.90 L324.10,151.90 L324.50,151.90 L324.90,151.90 L325.30,151.90 L325.70,151.90 L326.10,151.90 L326.50,151.90 L326.90,151.90 L327.30,151.90 L327.70,151.90 L328.10,151.90 L328.50,151.90" fill="none" stroke="#1e1e1e" stroke-width="0.65" stroke-linejoin="round"/>
<path d="M260.4,152.1 L261.7,151.0 L262.5,151.8 L263.6,152.1 Z" fill="#222"/>
<line x1="245.89999999999998" y1="88.4" x2="248.7" y2="88.4" stroke="#444" stroke-width="0.6"/>
<text x="245.2" y="89.4" font-family="Liberation Sans, sans-serif" font-size="2.9" fill="#333" text-anchor="end">600</text>
<line x1="245.89999999999998" y1="109.9" x2="248.7" y2="109.9" stroke="#444" stroke-width="0.6"/>
<text x="245.2" y="110.9" font-family="Liberation Sans, sans-serif" font-size="2.9" fill="#333" text-anchor="end">400</text>
<line x1="245.89999999999998" y1="131.0" x2="248.7" y2="131.0" stroke="#444" stroke-width="0.6"/>
<text x="245.2" y="132.0" font-family="Liberation Sans, sans-serif" font-size="2.9" fill="#333" text-anchor="end">200</text>
<line x1="245.89999999999998" y1="151.7" x2="248.7" y2="151.7" stroke="#444" stroke-width="0.6"/>
<text x="245.2" y="152.7" font-family="Liberation Sans, sans-serif" font-size="2.9" fill="#333" text-anchor="end">0</text>
<line x1="247.39999999999998" y1="151.70" x2="248.7" y2="151.70" stroke="#666" stroke-width="0.4"/>
<line x1="247.39999999999998" y1="146.32" x2="248.7" y2="146.32" stroke="#666" stroke-width="0.4"/>
<line x1="247.39999999999998" y1="140.95" x2="248.7" y2="140.95" stroke="#666" stroke-width="0.4"/>
<line x1="247.39999999999998" y1="135.57" x2="248.7" y2="135.57" stroke="#666" stroke-width="0.4"/>
<line x1="247.39999999999998" y1="130.20" x2="248.7" y2="130.20" stroke="#666" stroke-width="0.4"/>
<line x1="247.39999999999998" y1="124.82" x2="248.7" y2="124.82" stroke="#666" stroke-width="0.4"/>
<line x1="247.39999999999998" y1="119.45" x2="248.7" y2="119.45" stroke="#666" stroke-width="0.4"/>
<line x1="247.39999999999998" y1="114.07" x2="248.7" y2="114.07" stroke="#666" stroke-width="0.4"/>
<line x1="247.39999999999998" y1="108.70" x2="248.7" y2="108.70" stroke="#666" stroke-width="0.4"/>
<line x1="247.39999999999998" y1="103.32" x2="248.7" y2="103.32" stroke="#666" stroke-width="0.4"/>
<line x1="247.39999999999998" y1="97.95" x2="248.7" y2="97.95" stroke="#666" stroke-width="0.4"/>
<line x1="247.39999999999998" y1="92.57" x2="248.7" y2="92.57" stroke="#666" stroke-width="0.4"/>
<line x1="247.39999999999998" y1="87.20" x2="248.7" y2="87.20" stroke="#666" stroke-width="0.4"/>
<line x1="247.39999999999998" y1="81.82" x2="248.7" y2="81.82" stroke="#666" stroke-width="0.4"/>
<line x1="247.39999999999998" y1="76.45" x2="248.7" y2="76.45" stroke="#666" stroke-width="0.4"/>
<line x1="262.0" y1="152.2" x2="262.0" y2="154.2" stroke="#444" stroke-width="0.55"/>
<text x="262.0" y="159.2" font-family="Liberation Sans, sans-serif" font-size="3" fill="#333" text-anchor="middle">0</text>
<line x1="287.3" y1="152.2" x2="287.3" y2="154.2" stroke="#444" stroke-width="0.55"/>
<text x="287.3" y="159.2" font-family="Liberation Sans, sans-serif" font-size="3" fill="#333" text-anchor="middle">10<tspan dy="-1.1" font-size="2">3</tspan></text>
<line x1="305.9" y1="152.2" x2="305.9" y2="154.2" stroke="#444" stroke-width="0.55"/>
<text x="305.9" y="159.2" font-family="Liberation Sans, sans-serif" font-size="3" fill="#333" text-anchor="middle">10<tspan dy="-1.1" font-size="2">4</tspan></text>
<line x1="325.3" y1="152.2" x2="325.3" y2="154.2" stroke="#444" stroke-width="0.55"/>
<text x="325.3" y="159.2" font-family="Liberation Sans, sans-serif" font-size="3" fill="#333" text-anchor="middle">10<tspan dy="-1.1" font-size="2">5</tspan></text>
<line x1="269.59" y1="152.2" x2="269.59" y2="153.2" stroke="#666" stroke-width="0.35"/>
<line x1="274.14" y1="152.2" x2="274.14" y2="153.2" stroke="#666" stroke-width="0.35"/>
<line x1="277.18" y1="152.2" x2="277.18" y2="153.2" stroke="#666" stroke-width="0.35"/>
<line x1="279.71" y1="152.2" x2="279.71" y2="153.2" stroke="#666" stroke-width="0.35"/>
<line x1="281.73" y1="152.2" x2="281.73" y2="153.2" stroke="#666" stroke-width="0.35"/>
<line x1="283.50" y1="152.2" x2="283.50" y2="153.2" stroke="#666" stroke-width="0.35"/>
<line x1="284.77" y1="152.2" x2="284.77" y2="153.2" stroke="#666" stroke-width="0.35"/>
<line x1="286.04" y1="152.2" x2="286.04" y2="153.2" stroke="#666" stroke-width="0.35"/>
<line x1="292.88" y1="152.2" x2="292.88" y2="153.2" stroke="#666" stroke-width="0.35"/>
<line x1="296.23" y1="152.2" x2="296.23" y2="153.2" stroke="#666" stroke-width="0.35"/>
<line x1="298.46" y1="152.2" x2="298.46" y2="153.2" stroke="#666" stroke-width="0.35"/>
<line x1="300.32" y1="152.2" x2="300.32" y2="153.2" stroke="#666" stroke-width="0.35"/>
<line x1="301.81" y1="152.2" x2="301.81" y2="153.2" stroke="#666" stroke-width="0.35"/>
<line x1="303.11" y1="152.2" x2="303.11" y2="153.2" stroke="#666" stroke-width="0.35"/>
<line x1="304.04" y1="152.2" x2="304.04" y2="153.2" stroke="#666" stroke-width="0.35"/>
<line x1="304.97" y1="152.2" x2="304.97" y2="153.2" stroke="#666" stroke-width="0.35"/>
<line x1="311.72" y1="152.2" x2="311.72" y2="153.2" stroke="#666" stroke-width="0.35"/>
<line x1="315.21" y1="152.2" x2="315.21" y2="153.2" stroke="#666" stroke-width="0.35"/>
<line x1="317.54" y1="152.2" x2="317.54" y2="153.2" stroke="#666" stroke-width="0.35"/>
<line x1="319.48" y1="152.2" x2="319.48" y2="153.2" stroke="#666" stroke-width="0.35"/>
<line x1="321.03" y1="152.2" x2="321.03" y2="153.2" stroke="#666" stroke-width="0.35"/>
<line x1="322.39" y1="152.2" x2="322.39" y2="153.2" stroke="#666" stroke-width="0.35"/>
<line x1="323.36" y1="152.2" x2="323.36" y2="153.2" stroke="#666" stroke-width="0.35"/>
<line x1="324.33" y1="152.2" x2="324.33" y2="153.2" stroke="#666" stroke-width="0.35"/>
<path d="M280.6,133.20000000000002V136.6M280.6,134.9H308.5M308.5,133.20000000000002V136.6" stroke="#444" stroke-width="0.8" fill="none"/>
<text transform="translate(293.0,126.6) rotate(0.03) scale(0.98,1)" font-family="Liberation Sans, sans-serif" font-size="9.3" fill="#111" stroke="#111" stroke-width="0.12" text-anchor="middle">30.1</text>
<rect x="345.3" y="71.1" width="83.3" height="81.1" fill="#fff" stroke="#707070" stroke-width="0.7"/>
<path d="M348.30,152.10 L348.30,151.90 L348.70,151.90 L349.10,151.90 L349.50,151.90 L349.90,151.90 L350.30,151.90 L350.70,151.90 L351.10,151.90 L351.50,151.90 L351.90,151.90 L352.30,151.90 L352.70,151.90 L353.10,151.90 L353.50,151.90 L353.90,151.90 L354.30,151.90 L354.70,151.90 L355.10,151.90 L355.50,151.90 L355.90,151.90 L356.30,151.90 L356.70,151.90 L357.10,151.90 L357.50,151.90 L357.90,151.90 L358.30,151.90 L358.70,151.90 L359.10,151.90 L359.50,151.90 L359.90,151.90 L360.30,151.90 L360.70,151.90 L361.10,151.90 L361.50,151.90 L361.90,151.90 L362.30,151.89 L362.70,151.85 L363.10,151.66 L363.50,151.16 L363.90,150.51 L364.20,150.30 L364.30,150.32 L364.70,150.82 L365.10,151.45 L365.50,151.79 L365.90,151.88 L366.30,151.90 L366.70,151.90 L367.10,151.90 L367.50,151.90 L367.90,151.90 L368.30,151.90 L368.70,151.90 L369.10,151.90 L369.50,151.90 L369.90,151.90 L370.30,151.90 L370.70,151.90 L371.10,151.90 L371.50,151.90 L371.90,151.90 L372.30,151.90 L372.70,151.90 L373.10,151.90 L373.50,151.90 L373.90,151.90 L374.30,151.90 L374.70,151.90 L375.10,151.90 L375.50,151.90 L375.90,151.90 L376.30,151.90 L376.70,151.90 L377.10,151.90 L377.50,151.90 L377.90,151.90 L378.30,151.90 L378.70,151.90 L379.10,151.90 L379.50,151.90 L379.90,151.90 L380.30,151.90 L380.70,151.90 L381.10,151.90 L381.50,151.90 L381.90,151.89 L382.30,151.88 L382.70,151.86 L383.10,151.83 L383.50,151.77 L383.90,151.67 L384.30,151.54 L384.70,151.35 L385.10,151.14 L385.50,150.92 L385.90,150.80 L386.30,150.92 L386.70,151.14 L387.10,151.35 L387.50,151.53 L387.90,151.65 L388.30,151.72 L388.70,151.74 L389.10,151.70 L389.50,151.59 L389.90,151.40 L390.30,151.12 L390.70,150.76 L391.10,150.34 L391.50,149.95 L391.80,149.80 L391.90,149.83 L392.30,150.13 L392.70,150.55 L393.10,150.95 L393.50,151.28 L393.90,151.51 L394.30,151.65 L394.70,151.72 L395.10,151.71 L395.50,151.62 L395.90,151.44 L396.30,151.13 L396.70,150.68 L397.10,150.06 L397.50,149.33 L397.90,148.62 L398.30,148.20 L398.70,148.62 L399.10,149.33 L399.50,150.05 L399.90,150.66 L400.30,151.10 L400.70,151.37 L401.10,151.49 L401.50,151.45 L401.90,151.26 L402.30,150.89 L402.70,150.30 L403.10,149.51 L403.50,148.57 L403.90,147.64 L404.30,147.10 L404.70,147.64 L405.10,148.55 L405.50,149.47 L405.90,150.19 L406.30,150.60 L406.70,150.58 L407.10,149.93 L407.50,148.28 L407.90,144.97 L408.30,139.13 L408.70,129.76 L409.10,116.26 L409.50,99.33 L409.90,82.35 L410.20,74.80 L410.30,76.23 L410.70,90.48 L411.10,108.10 L411.50,123.54 L411.90,134.96 L412.30,142.49 L412.70,147.00 L413.10,149.50 L413.50,150.79 L413.90,151.41 L414.30,151.70 L414.70,151.82 L415.10,151.87 L415.50,151.89 L415.90,151.90 L416.30,151.90 L416.70,151.90 L417.10,151.90 L417.50,151.90 L417.90,151.90 L418.30,151.90 L418.70,151.90 L419.10,151.90 L419.50,151.90 L419.90,151.90 L420.30,151.90 L420.70,151.90 L421.10,151.90 L421.50,151.90 L421.90,151.90 L422.30,151.90 L422.70,151.90 L423.10,151.90 L423.50,151.90 L423.90,151.90 L424.30,151.90 L424.70,151.90 L425.10,151.90 L425.50,151.90 L425.50,152.10 Z" fill="#969696" stroke="none"/>
<path d="M348.30,151.90 L348.70,151.90 L349.10,151.90 L349.50,151.90 L349.90,151.90 L350.30,151.90 L350.70,151.90 L351.10,151.90 L351.50,151.90 L351.90,151.90 L352.30,151.90 L352.70,151.90 L353.10,151.90 L353.50,151.90 L353.90,151.90 L354.30,151.90 L354.70,151.90 L355.10,151.90 L355.50,151.90 L355.90,151.90 L356.30,151.90 L356.70,151.90 L357.10,151.90 L357.50,151.90 L357.90,151.90 L358.30,151.90 L358.70,151.90 L359.10,151.90 L359.50,151.90 L359.90,151.90 L360.30,151.90 L360.70,151.90 L361.10,151.90 L361.50,151.90 L361.90,151.90 L362.30,151.89 L362.70,151.85 L363.10,151.66 L363.50,151.16 L363.90,150.51 L364.20,150.30 L364.30,150.32 L364.70,150.82 L365.10,151.45 L365.50,151.79 L365.90,151.88 L366.30,151.90 L366.70,151.90 L367.10,151.90 L367.50,151.90 L367.90,151.90 L368.30,151.90 L368.70,151.90 L369.10,151.90 L369.50,151.90 L369.90,151.90 L370.30,151.90 L370.70,151.90 L371.10,151.90 L371.50,151.90 L371.90,151.90 L372.30,151.90 L372.70,151.90 L373.10,151.90 L373.50,151.90 L373.90,151.90 L374.30,151.90 L374.70,151.90 L375.10,151.90 L375.50,151.90 L375.90,151.90 L376.30,151.90 L376.70,151.90 L377.10,151.90 L377.50,151.90 L377.90,151.90 L378.30,151.90 L378.70,151.90 L379.10,151.90 L379.50,151.90 L379.90,151.90 L380.30,151.90 L380.70,151.90 L381.10,151.90 L381.50,151.90 L381.90,151.89 L382.30,151.88 L382.70,151.86 L383.10,151.83 L383.50,151.77 L383.90,151.67 L384.30,151.54 L384.70,151.35 L385.10,151.14 L385.50,150.92 L385.90,150.80 L386.30,150.92 L386.70,151.14 L387.10,151.35 L387.50,151.53 L387.90,151.65 L388.30,151.72 L388.70,151.74 L389.10,151.70 L389.50,151.59 L389.90,151.40 L390.30,151.12 L390.70,150.76 L391.10,150.34 L391.50,149.95 L391.80,149.80 L391.90,149.83 L392.30,150.13 L392.70,150.55 L393.10,150.95 L393.50,151.28 L393.90,151.51 L394.30,151.65 L394.70,151.72 L395.10,151.71 L395.50,151.62 L395.90,151.44 L396.30,151.13 L396.70,150.68 L397.10,150.06 L397.50,149.33 L397.90,148.62 L398.30,148.20 L398.70,148.62 L399.10,149.33 L399.50,150.05 L399.90,150.66 L400.30,151.10 L400.70,151.37 L401.10,151.49 L401.50,151.45 L401.90,151.26 L402.30,150.89 L402.70,150.30 L403.10,149.51 L403.50,148.57 L403.90,147.64 L404.30,147.10 L404.70,147.64 L405.10,148.55 L405.50,149.47 L405.90,150.19 L406.30,150.60 L406.70,150.58 L407.10,149.93 L407.50,148.28 L407.90,144.97 L408.30,139.13 L408.70,129.76 L409.10,116.26 L409.50,99.33 L409.90,82.35 L410.20,74.80 L410.30,76.23 L410.70,90.48 L411.10,108.10 L411.50,123.54 L411.90,134.96 L412.30,142.49 L412.70,147.00 L413.10,149.50 L413.50,150.79 L413.90,151.41 L414.30,151.70 L414.70,151.82 L415.10,151.87 L415.50,151.89 L415.90,151.90 L416.30,151.90 L416.70,151.90 L417.10,151.90 L417.50,151.90 L417.90,151.90 L418.30,151.90 L418.70,151.90 L419.10,151.90 L419.50,151.90 L419.90,151.90 L420.30,151.90 L420.70,151.90 L421.10,151.90 L421.50,151.90 L421.90,151.90 L422.30,151.90 L422.70,151.90 L423.10,151.90 L423.50,151.90 L423.90,151.90 L424.30,151.90 L424.70,151.90 L425.10,151.90 L425.50,151.90" fill="none" stroke="#1e1e1e" stroke-width="0.65" stroke-linejoin="round"/>
<path d="M362.59999999999997,152.1 L363.9,150.5 L364.7,151.3 L365.8,152.1 Z" fill="#222"/>
<line x1="342.5" y1="86.6" x2="345.3" y2="86.6" stroke="#444" stroke-width="0.6"/>
<text x="341.8" y="87.6" font-family="Liberation Sans, sans-serif" font-size="2.9" fill="#333" text-anchor="end">600</text>
<line x1="342.5" y1="108.6" x2="345.3" y2="108.6" stroke="#444" stroke-width="0.6"/>
<text x="341.8" y="109.6" font-family="Liberation Sans, sans-serif" font-size="2.9" fill="#333" text-anchor="end">400</text>
<line x1="342.5" y1="130.3" x2="345.3" y2="130.3" stroke="#444" stroke-width="0.6"/>
<text x="341.8" y="131.3" font-family="Liberation Sans, sans-serif" font-size="2.9" fill="#333" text-anchor="end">200</text>
<line x1="342.5" y1="151.7" x2="345.3" y2="151.7" stroke="#444" stroke-width="0.6"/>
<text x="341.8" y="152.7" font-family="Liberation Sans, sans-serif" font-size="2.9" fill="#333" text-anchor="end">0</text>
<line x1="344.0" y1="151.70" x2="345.3" y2="151.70" stroke="#666" stroke-width="0.4"/>
<line x1="344.0" y1="146.20" x2="345.3" y2="146.20" stroke="#666" stroke-width="0.4"/>
<line x1="344.0" y1="140.70" x2="345.3" y2="140.70" stroke="#666" stroke-width="0.4"/>
<line x1="344.0" y1="135.20" x2="345.3" y2="135.20" stroke="#666" stroke-width="0.4"/>
<line x1="344.0" y1="129.70" x2="345.3" y2="129.70" stroke="#666" stroke-width="0.4"/>
<line x1="344.0" y1="124.20" x2="345.3" y2="124.20" stroke="#666" stroke-width="0.4"/>
<line x1="344.0" y1="118.70" x2="345.3" y2="118.70" stroke="#666" stroke-width="0.4"/>
<line x1="344.0" y1="113.20" x2="345.3" y2="113.20" stroke="#666" stroke-width="0.4"/>
<line x1="344.0" y1="107.70" x2="345.3" y2="107.70" stroke="#666" stroke-width="0.4"/>
<line x1="344.0" y1="102.20" x2="345.3" y2="102.20" stroke="#666" stroke-width="0.4"/>
<line x1="344.0" y1="96.70" x2="345.3" y2="96.70" stroke="#666" stroke-width="0.4"/>
<line x1="344.0" y1="91.20" x2="345.3" y2="91.20" stroke="#666" stroke-width="0.4"/>
<line x1="344.0" y1="85.70" x2="345.3" y2="85.70" stroke="#666" stroke-width="0.4"/>
<line x1="344.0" y1="80.20" x2="345.3" y2="80.20" stroke="#666" stroke-width="0.4"/>
<line x1="344.0" y1="74.70" x2="345.3" y2="74.70" stroke="#666" stroke-width="0.4"/>
<line x1="352.6" y1="152.2" x2="352.6" y2="154.2" stroke="#444" stroke-width="0.55"/>
<text x="352.6" y="159.2" font-family="Liberation Sans, sans-serif" font-size="3" fill="#333" text-anchor="middle">-10<tspan dy="-1.1" font-size="2">3</tspan></text>
<line x1="365.5" y1="152.2" x2="365.5" y2="154.2" stroke="#444" stroke-width="0.55"/>
<text x="365.5" y="159.2" font-family="Liberation Sans, sans-serif" font-size="3" fill="#333" text-anchor="middle">0</text>
<line x1="379.4" y1="152.2" x2="379.4" y2="154.2" stroke="#444" stroke-width="0.55"/>
<text x="379.4" y="159.2" font-family="Liberation Sans, sans-serif" font-size="3" fill="#333" text-anchor="middle">10<tspan dy="-1.1" font-size="2">3</tspan></text>
<line x1="402.7" y1="152.2" x2="402.7" y2="154.2" stroke="#444" stroke-width="0.55"/>
<text x="402.7" y="159.2" font-family="Liberation Sans, sans-serif" font-size="3" fill="#333" text-anchor="middle">10<tspan dy="-1.1" font-size="2">4</tspan></text>
<line x1="422.0" y1="152.2" x2="422.0" y2="154.2" stroke="#444" stroke-width="0.55"/>
<text x="422.0" y="159.2" font-family="Liberation Sans, sans-serif" font-size="3" fill="#333" text-anchor="middle">10<tspan dy="-1.1" font-size="2">5</tspan></text>
<line x1="356.47" y1="152.2" x2="356.47" y2="153.2" stroke="#666" stroke-width="0.35"/>
<line x1="358.79" y1="152.2" x2="358.79" y2="153.2" stroke="#666" stroke-width="0.35"/>
<line x1="360.34" y1="152.2" x2="360.34" y2="153.2" stroke="#666" stroke-width="0.35"/>
<line x1="361.63" y1="152.2" x2="361.63" y2="153.2" stroke="#666" stroke-width="0.35"/>
<line x1="362.66" y1="152.2" x2="362.66" y2="153.2" stroke="#666" stroke-width="0.35"/>
<line x1="363.56" y1="152.2" x2="363.56" y2="153.2" stroke="#666" stroke-width="0.35"/>
<line x1="364.21" y1="152.2" x2="364.21" y2="153.2" stroke="#666" stroke-width="0.35"/>
<line x1="364.86" y1="152.2" x2="364.86" y2="153.2" stroke="#666" stroke-width="0.35"/>
<line x1="369.67" y1="152.2" x2="369.67" y2="153.2" stroke="#666" stroke-width="0.35"/>
<line x1="372.17" y1="152.2" x2="372.17" y2="153.2" stroke="#666" stroke-width="0.35"/>
<line x1="373.84" y1="152.2" x2="373.84" y2="153.2" stroke="#666" stroke-width="0.35"/>
<line x1="375.23" y1="152.2" x2="375.23" y2="153.2" stroke="#666" stroke-width="0.35"/>
<line x1="376.34" y1="152.2" x2="376.34" y2="153.2" stroke="#666" stroke-width="0.35"/>
<line x1="377.31" y1="152.2" x2="377.31" y2="153.2" stroke="#666" stroke-width="0.35"/>
<line x1="378.01" y1="152.2" x2="378.01" y2="153.2" stroke="#666" stroke-width="0.35"/>
<line x1="378.70" y1="152.2" x2="378.70" y2="153.2" stroke="#666" stroke-width="0.35"/>
<line x1="386.39" y1="152.2" x2="386.39" y2="153.2" stroke="#666" stroke-width="0.35"/>
<line x1="390.58" y1="152.2" x2="390.58" y2="153.2" stroke="#666" stroke-width="0.35"/>
<line x1="393.38" y1="152.2" x2="393.38" y2="153.2" stroke="#666" stroke-width="0.35"/>
<line x1="395.71" y1="152.2" x2="395.71" y2="153.2" stroke="#666" stroke-width="0.35"/>
<line x1="397.57" y1="152.2" x2="397.57" y2="153.2" stroke="#666" stroke-width="0.35"/>
<line x1="399.20" y1="152.2" x2="399.20" y2="153.2" stroke="#666" stroke-width="0.35"/>
<line x1="400.37" y1="152.2" x2="400.37" y2="153.2" stroke="#666" stroke-width="0.35"/>
<line x1="401.53" y1="152.2" x2="401.53" y2="153.2" stroke="#666" stroke-width="0.35"/>
<line x1="408.49" y1="152.2" x2="408.49" y2="153.2" stroke="#666" stroke-width="0.35"/>
<line x1="411.96" y1="152.2" x2="411.96" y2="153.2" stroke="#666" stroke-width="0.35"/>
<line x1="414.28" y1="152.2" x2="414.28" y2="153.2" stroke="#666" stroke-width="0.35"/>
<line x1="416.21" y1="152.2" x2="416.21" y2="153.2" stroke="#666" stroke-width="0.35"/>
<line x1="417.75" y1="152.2" x2="417.75" y2="153.2" stroke="#666" stroke-width="0.35"/>
<line x1="419.11" y1="152.2" x2="419.11" y2="153.2" stroke="#666" stroke-width="0.35"/>
<line x1="420.07" y1="152.2" x2="420.07" y2="153.2" stroke="#666" stroke-width="0.35"/>
<line x1="421.04" y1="152.2" x2="421.04" y2="153.2" stroke="#666" stroke-width="0.35"/>
<path d="M373.8,133.20000000000002V136.6M373.8,134.9H405.8M405.8,133.20000000000002V136.6" stroke="#444" stroke-width="0.8" fill="none"/>
<text transform="translate(389.3,126.6) rotate(0.03) scale(0.98,1)" font-family="Liberation Sans, sans-serif" font-size="9.3" fill="#111" stroke="#111" stroke-width="0.12" text-anchor="middle">17.0</text>
<rect x="155.9" y="169.8" width="82.3" height="80.7" fill="#fff" stroke="#707070" stroke-width="0.7"/>
<path d="M158.90,250.40 L158.90,250.20 L159.30,250.20 L159.70,250.20 L160.10,250.20 L160.50,250.20 L160.90,250.20 L161.30,250.20 L161.70,250.20 L162.10,250.20 L162.50,250.20 L162.90,250.20 L163.30,250.20 L163.70,250.20 L164.10,250.20 L164.50,250.20 L164.90,250.20 L165.30,250.20 L165.70,250.20 L166.10,250.20 L166.50,250.20 L166.90,250.20 L167.30,250.20 L167.70,250.20 L168.10,250.20 L168.50,250.20 L168.90,250.20 L169.30,250.20 L169.70,250.20 L170.10,250.20 L170.50,250.20 L170.90,250.20 L171.30,250.20 L171.70,250.20 L172.10,250.20 L172.50,250.17 L172.90,250.02 L173.30,249.49 L173.70,248.51 L174.10,247.74 L174.20,247.70 L174.50,248.03 L174.90,249.04 L175.30,249.82 L175.70,250.13 L176.10,250.19 L176.50,250.20 L176.90,250.20 L177.30,250.20 L177.70,250.20 L178.10,250.20 L178.50,250.20 L178.90,250.20 L179.30,250.20 L179.70,250.20 L180.10,250.20 L180.50,250.20 L180.90,250.20 L181.30,250.20 L181.70,250.20 L182.10,250.20 L182.50,250.20 L182.90,250.20 L183.30,250.20 L183.70,250.20 L184.10,250.20 L184.50,250.20 L184.90,250.20 L185.30,250.20 L185.70,250.20 L186.10,250.20 L186.50,250.20 L186.90,250.20 L187.30,250.20 L187.70,250.20 L188.10,250.20 L188.50,250.20 L188.90,250.20 L189.30,250.20 L189.70,250.19 L190.10,250.19 L190.50,250.17 L190.90,250.14 L191.30,250.08 L191.70,249.98 L192.10,249.83 L192.50,249.61 L192.90,249.31 L193.30,248.95 L193.70,248.60 L194.10,248.40 L194.50,248.60 L194.90,248.95 L195.30,249.30 L195.70,249.60 L196.10,249.81 L196.50,249.94 L196.90,249.98 L197.30,249.93 L197.70,249.76 L198.10,249.44 L198.50,248.90 L198.90,248.08 L199.30,246.95 L199.70,245.57 L200.10,244.14 L200.50,243.09 L200.60,243.00 L200.90,243.53 L201.30,244.84 L201.70,246.28 L202.10,247.54 L202.50,248.50 L202.90,249.16 L203.30,249.53 L203.70,249.68 L204.10,249.62 L204.50,249.33 L204.90,248.78 L205.30,247.92 L205.70,246.72 L206.10,245.25 L206.50,243.72 L206.90,242.60 L207.00,242.50 L207.30,243.06 L207.70,244.47 L208.10,246.00 L208.50,247.35 L208.90,248.37 L209.30,249.05 L209.70,249.42 L210.10,249.52 L210.50,249.35 L210.90,248.88 L211.30,248.07 L211.70,246.87 L212.10,245.30 L212.50,243.50 L212.90,241.86 L213.20,241.20 L213.30,241.32 L213.70,242.62 L214.10,244.40 L214.50,246.11 L214.90,247.47 L215.30,248.37 L215.70,248.78 L216.10,248.58 L216.50,247.55 L216.90,245.19 L217.30,240.77 L217.70,233.32 L218.10,221.97 L218.50,206.63 L218.90,189.10 L219.30,174.93 L219.40,173.50 L219.70,181.01 L220.10,197.91 L220.50,214.75 L220.90,228.19 L221.30,237.53 L221.70,243.39 L222.10,246.76 L222.50,248.56 L222.90,249.46 L223.30,249.88 L223.70,250.07 L224.10,250.15 L224.50,250.18 L224.90,250.19 L225.30,250.20 L225.70,250.20 L226.10,250.20 L226.50,250.20 L226.90,250.20 L227.30,250.20 L227.70,250.20 L228.10,250.20 L228.50,250.20 L228.90,250.20 L229.30,250.20 L229.70,250.20 L230.10,250.20 L230.50,250.20 L230.90,250.20 L231.30,250.20 L231.70,250.20 L232.10,250.20 L232.50,250.20 L232.90,250.20 L233.30,250.20 L233.70,250.20 L234.10,250.20 L234.50,250.20 L234.90,250.20 L234.90,250.40 Z" fill="#969696" stroke="none"/>
<path d="M158.90,250.20 L159.30,250.20 L159.70,250.20 L160.10,250.20 L160.50,250.20 L160.90,250.20 L161.30,250.20 L161.70,250.20 L162.10,250.20 L162.50,250.20 L162.90,250.20 L163.30,250.20 L163.70,250.20 L164.10,250.20 L164.50,250.20 L164.90,250.20 L165.30,250.20 L165.70,250.20 L166.10,250.20 L166.50,250.20 L166.90,250.20 L167.30,250.20 L167.70,250.20 L168.10,250.20 L168.50,250.20 L168.90,250.20 L169.30,250.20 L169.70,250.20 L170.10,250.20 L170.50,250.20 L170.90,250.20 L171.30,250.20 L171.70,250.20 L172.10,250.20 L172.50,250.17 L172.90,250.02 L173.30,249.49 L173.70,248.51 L174.10,247.74 L174.20,247.70 L174.50,248.03 L174.90,249.04 L175.30,249.82 L175.70,250.13 L176.10,250.19 L176.50,250.20 L176.90,250.20 L177.30,250.20 L177.70,250.20 L178.10,250.20 L178.50,250.20 L178.90,250.20 L179.30,250.20 L179.70,250.20 L180.10,250.20 L180.50,250.20 L180.90,250.20 L181.30,250.20 L181.70,250.20 L182.10,250.20 L182.50,250.20 L182.90,250.20 L183.30,250.20 L183.70,250.20 L184.10,250.20 L184.50,250.20 L184.90,250.20 L185.30,250.20 L185.70,250.20 L186.10,250.20 L186.50,250.20 L186.90,250.20 L187.30,250.20 L187.70,250.20 L188.10,250.20 L188.50,250.20 L188.90,250.20 L189.30,250.20 L189.70,250.19 L190.10,250.19 L190.50,250.17 L190.90,250.14 L191.30,250.08 L191.70,249.98 L192.10,249.83 L192.50,249.61 L192.90,249.31 L193.30,248.95 L193.70,248.60 L194.10,248.40 L194.50,248.60 L194.90,248.95 L195.30,249.30 L195.70,249.60 L196.10,249.81 L196.50,249.94 L196.90,249.98 L197.30,249.93 L197.70,249.76 L198.10,249.44 L198.50,248.90 L198.90,248.08 L199.30,246.95 L199.70,245.57 L200.10,244.14 L200.50,243.09 L200.60,243.00 L200.90,243.53 L201.30,244.84 L201.70,246.28 L202.10,247.54 L202.50,248.50 L202.90,249.16 L203.30,249.53 L203.70,249.68 L204.10,249.62 L204.50,249.33 L204.90,248.78 L205.30,247.92 L205.70,246.72 L206.10,245.25 L206.50,243.72 L206.90,242.60 L207.00,242.50 L207.30,243.06 L207.70,244.47 L208.10,246.00 L208.50,247.35 L208.90,248.37 L209.30,249.05 L209.70,249.42 L210.10,249.52 L210.50,249.35 L210.90,248.88 L211.30,248.07 L211.70,246.87 L212.10,245.30 L212.50,243.50 L212.90,241.86 L213.20,241.20 L213.30,241.32 L213.70,242.62 L214.10,244.40 L214.50,246.11 L214.90,247.47 L215.30,248.37 L215.70,248.78 L216.10,248.58 L216.50,247.55 L216.90,245.19 L217.30,240.77 L217.70,233.32 L218.10,221.97 L218.50,206.63 L218.90,189.10 L219.30,174.93 L219.40,173.50 L219.70,181.01 L220.10,197.91 L220.50,214.75 L220.90,228.19 L221.30,237.53 L221.70,243.39 L222.10,246.76 L222.50,248.56 L222.90,249.46 L223.30,249.88 L223.70,250.07 L224.10,250.15 L224.50,250.18 L224.90,250.19 L225.30,250.20 L225.70,250.20 L226.10,250.20 L226.50,250.20 L226.90,250.20 L227.30,250.20 L227.70,250.20 L228.10,250.20 L228.50,250.20 L228.90,250.20 L229.30,250.20 L229.70,250.20 L230.10,250.20 L230.50,250.20 L230.90,250.20 L231.30,250.20 L231.70,250.20 L232.10,250.20 L232.50,250.20 L232.90,250.20 L233.30,250.20 L233.70,250.20 L234.10,250.20 L234.50,250.20 L234.90,250.20" fill="none" stroke="#1e1e1e" stroke-width="0.65" stroke-linejoin="round"/>
<path d="M172.6,250.4 L173.89999999999998,247.9 L174.7,248.70000000000002 L175.79999999999998,250.4 Z" fill="#222"/>
<line x1="153.1" y1="171.6" x2="155.9" y2="171.6" stroke="#444" stroke-width="0.6"/>
<text x="152.4" y="172.6" font-family="Liberation Sans, sans-serif" font-size="2.9" fill="#333" text-anchor="end">800</text>
<line x1="153.1" y1="191.0" x2="155.9" y2="191.0" stroke="#444" stroke-width="0.6"/>
<text x="152.4" y="192.0" font-family="Liberation Sans, sans-serif" font-size="2.9" fill="#333" text-anchor="end">600</text>
<line x1="153.1" y1="210.9" x2="155.9" y2="210.9" stroke="#444" stroke-width="0.6"/>
<text x="152.4" y="211.9" font-family="Liberation Sans, sans-serif" font-size="2.9" fill="#333" text-anchor="end">400</text>
<line x1="153.1" y1="230.3" x2="155.9" y2="230.3" stroke="#444" stroke-width="0.6"/>
<text x="152.4" y="231.3" font-family="Liberation Sans, sans-serif" font-size="2.9" fill="#333" text-anchor="end">200</text>
<line x1="153.1" y1="249.9" x2="155.9" y2="249.9" stroke="#444" stroke-width="0.6"/>
<text x="152.4" y="250.9" font-family="Liberation Sans, sans-serif" font-size="2.9" fill="#333" text-anchor="end">0</text>
<line x1="154.6" y1="249.90" x2="155.9" y2="249.90" stroke="#666" stroke-width="0.4"/>
<line x1="154.6" y1="245.05" x2="155.9" y2="245.05" stroke="#666" stroke-width="0.4"/>
<line x1="154.6" y1="240.20" x2="155.9" y2="240.20" stroke="#666" stroke-width="0.4"/>
<line x1="154.6" y1="235.35" x2="155.9" y2="235.35" stroke="#666" stroke-width="0.4"/>
<line x1="154.6" y1="230.50" x2="155.9" y2="230.50" stroke="#666" stroke-width="0.4"/>
<line x1="154.6" y1="225.65" x2="155.9" y2="225.65" stroke="#666" stroke-width="0.4"/>
<line x1="154.6" y1="220.80" x2="155.9" y2="220.80" stroke="#666" stroke-width="0.4"/>
<line x1="154.6" y1="215.95" x2="155.9" y2="215.95" stroke="#666" stroke-width="0.4"/>
<line x1="154.6" y1="211.10" x2="155.9" y2="211.10" stroke="#666" stroke-width="0.4"/>
<line x1="154.6" y1="206.25" x2="155.9" y2="206.25" stroke="#666" stroke-width="0.4"/>
<line x1="154.6" y1="201.40" x2="155.9" y2="201.40" stroke="#666" stroke-width="0.4"/>
<line x1="154.6" y1="196.55" x2="155.9" y2="196.55" stroke="#666" stroke-width="0.4"/>
<line x1="154.6" y1="191.70" x2="155.9" y2="191.70" stroke="#666" stroke-width="0.4"/>
<line x1="154.6" y1="186.85" x2="155.9" y2="186.85" stroke="#666" stroke-width="0.4"/>
<line x1="154.6" y1="182.00" x2="155.9" y2="182.00" stroke="#666" stroke-width="0.4"/>
<line x1="154.6" y1="177.15" x2="155.9" y2="177.15" stroke="#666" stroke-width="0.4"/>
<line x1="154.6" y1="172.30" x2="155.9" y2="172.30" stroke="#666" stroke-width="0.4"/>
<line x1="163.6" y1="250.5" x2="163.6" y2="252.5" stroke="#444" stroke-width="0.55"/>
<text x="163.6" y="257.5" font-family="Liberation Sans, sans-serif" font-size="3" fill="#333" text-anchor="middle">-10<tspan dy="-1.1" font-size="2">3</tspan></text>
<line x1="176.0" y1="250.5" x2="176.0" y2="252.5" stroke="#444" stroke-width="0.55"/>
<text x="176.0" y="257.5" font-family="Liberation Sans, sans-serif" font-size="3" fill="#333" text-anchor="middle">0</text>
<line x1="190.2" y1="250.5" x2="190.2" y2="252.5" stroke="#444" stroke-width="0.55"/>
<text x="190.2" y="257.5" font-family="Liberation Sans, sans-serif" font-size="3" fill="#333" text-anchor="middle">10<tspan dy="-1.1" font-size="2">3</tspan></text>
<line x1="212.7" y1="250.5" x2="212.7" y2="252.5" stroke="#444" stroke-width="0.55"/>
<text x="212.7" y="257.5" font-family="Liberation Sans, sans-serif" font-size="3" fill="#333" text-anchor="middle">10<tspan dy="-1.1" font-size="2">4</tspan></text>
<line x1="232.1" y1="250.5" x2="232.1" y2="252.5" stroke="#444" stroke-width="0.55"/>
<text x="232.1" y="257.5" font-family="Liberation Sans, sans-serif" font-size="3" fill="#333" text-anchor="middle">10<tspan dy="-1.1" font-size="2">5</tspan></text>
<line x1="167.32" y1="250.5" x2="167.32" y2="251.5" stroke="#666" stroke-width="0.35"/>
<line x1="169.55" y1="250.5" x2="169.55" y2="251.5" stroke="#666" stroke-width="0.35"/>
<line x1="171.04" y1="250.5" x2="171.04" y2="251.5" stroke="#666" stroke-width="0.35"/>
<line x1="172.28" y1="250.5" x2="172.28" y2="251.5" stroke="#666" stroke-width="0.35"/>
<line x1="173.27" y1="250.5" x2="173.27" y2="251.5" stroke="#666" stroke-width="0.35"/>
<line x1="174.14" y1="250.5" x2="174.14" y2="251.5" stroke="#666" stroke-width="0.35"/>
<line x1="174.76" y1="250.5" x2="174.76" y2="251.5" stroke="#666" stroke-width="0.35"/>
<line x1="175.38" y1="250.5" x2="175.38" y2="251.5" stroke="#666" stroke-width="0.35"/>
<line x1="180.26" y1="250.5" x2="180.26" y2="251.5" stroke="#666" stroke-width="0.35"/>
<line x1="182.82" y1="250.5" x2="182.82" y2="251.5" stroke="#666" stroke-width="0.35"/>
<line x1="184.52" y1="250.5" x2="184.52" y2="251.5" stroke="#666" stroke-width="0.35"/>
<line x1="185.94" y1="250.5" x2="185.94" y2="251.5" stroke="#666" stroke-width="0.35"/>
<line x1="187.08" y1="250.5" x2="187.08" y2="251.5" stroke="#666" stroke-width="0.35"/>
<line x1="188.07" y1="250.5" x2="188.07" y2="251.5" stroke="#666" stroke-width="0.35"/>
<line x1="188.78" y1="250.5" x2="188.78" y2="251.5" stroke="#666" stroke-width="0.35"/>
<line x1="189.49" y1="250.5" x2="189.49" y2="251.5" stroke="#666" stroke-width="0.35"/>
<line x1="196.95" y1="250.5" x2="196.95" y2="251.5" stroke="#666" stroke-width="0.35"/>
<line x1="201.00" y1="250.5" x2="201.00" y2="251.5" stroke="#666" stroke-width="0.35"/>
<line x1="203.70" y1="250.5" x2="203.70" y2="251.5" stroke="#666" stroke-width="0.35"/>
<line x1="205.95" y1="250.5" x2="205.95" y2="251.5" stroke="#666" stroke-width="0.35"/>
<line x1="207.75" y1="250.5" x2="207.75" y2="251.5" stroke="#666" stroke-width="0.35"/>
<line x1="209.32" y1="250.5" x2="209.32" y2="251.5" stroke="#666" stroke-width="0.35"/>
<line x1="210.45" y1="250.5" x2="210.45" y2="251.5" stroke="#666" stroke-width="0.35"/>
<line x1="211.57" y1="250.5" x2="211.57" y2="251.5" stroke="#666" stroke-width="0.35"/>
<line x1="218.52" y1="250.5" x2="218.52" y2="251.5" stroke="#666" stroke-width="0.35"/>
<line x1="222.01" y1="250.5" x2="222.01" y2="251.5" stroke="#666" stroke-width="0.35"/>
<line x1="224.34" y1="250.5" x2="224.34" y2="251.5" stroke="#666" stroke-width="0.35"/>
<line x1="226.28" y1="250.5" x2="226.28" y2="251.5" stroke="#666" stroke-width="0.35"/>
<line x1="227.83" y1="250.5" x2="227.83" y2="251.5" stroke="#666" stroke-width="0.35"/>
<line x1="229.19" y1="250.5" x2="229.19" y2="251.5" stroke="#666" stroke-width="0.35"/>
<line x1="230.16" y1="250.5" x2="230.16" y2="251.5" stroke="#666" stroke-width="0.35"/>
<line x1="231.13" y1="250.5" x2="231.13" y2="251.5" stroke="#666" stroke-width="0.35"/>
<path d="M184.3,231.20000000000002V234.6M184.3,232.9H215.3M215.3,231.20000000000002V234.6" stroke="#444" stroke-width="0.8" fill="none"/>
<text transform="translate(199.3,225.60000000000002) rotate(0.03) scale(0.98,1)" font-family="Liberation Sans, sans-serif" font-size="9.3" fill="#111" stroke="#111" stroke-width="0.12" text-anchor="middle">28.1</text>
<rect x="249.2" y="170.7" width="82.3" height="80.7" fill="#fff" stroke="#707070" stroke-width="0.7"/>
<path d="M252.20,251.30 L252.20,251.10 L252.60,251.10 L253.00,251.10 L253.40,251.10 L253.80,251.10 L254.20,251.10 L254.60,251.10 L255.00,251.10 L255.40,251.10 L255.80,251.10 L256.20,251.10 L256.60,251.10 L257.00,251.10 L257.40,251.10 L257.80,251.10 L258.20,251.10 L258.60,251.10 L259.00,251.10 L259.40,251.10 L259.80,251.10 L260.20,251.10 L260.60,251.10 L261.00,251.10 L261.40,251.10 L261.80,251.10 L262.20,251.10 L262.60,251.10 L263.00,251.10 L263.40,251.10 L263.80,251.10 L264.20,251.10 L264.60,251.10 L265.00,251.10 L265.40,251.10 L265.80,251.07 L266.20,250.91 L266.60,250.26 L267.00,248.82 L267.40,247.34 L267.60,247.10 L267.80,247.34 L268.20,248.82 L268.60,250.26 L269.00,250.91 L269.40,251.07 L269.80,251.10 L270.20,251.10 L270.60,251.10 L271.00,251.10 L271.40,251.10 L271.80,251.10 L272.20,251.10 L272.60,251.10 L273.00,251.10 L273.40,251.10 L273.80,251.10 L274.20,251.10 L274.60,251.10 L275.00,251.10 L275.40,251.10 L275.80,251.10 L276.20,251.10 L276.60,251.10 L277.00,251.10 L277.40,251.10 L277.80,251.10 L278.20,251.10 L278.60,251.10 L279.00,251.10 L279.40,251.10 L279.80,251.10 L280.20,251.10 L280.60,251.10 L281.00,251.10 L281.40,251.10 L281.80,251.10 L282.20,251.10 L282.60,251.09 L283.00,251.08 L283.40,251.07 L283.80,251.03 L284.20,250.97 L284.60,250.87 L285.00,250.71 L285.40,250.47 L285.80,250.16 L286.20,249.78 L286.60,249.42 L287.00,249.20 L287.40,249.42 L287.80,249.78 L288.20,250.15 L288.60,250.47 L289.00,250.70 L289.40,250.85 L289.80,250.93 L290.20,250.94 L290.60,250.87 L291.00,250.72 L291.40,250.45 L291.80,250.01 L292.20,249.37 L292.60,248.54 L293.00,247.60 L293.40,246.74 L293.70,246.40 L293.80,246.46 L294.20,247.14 L294.60,248.07 L295.00,248.97 L295.40,249.69 L295.80,250.21 L296.20,250.51 L296.60,250.63 L297.00,250.57 L297.40,250.31 L297.80,249.79 L298.20,248.96 L298.60,247.79 L299.00,246.29 L299.40,244.67 L299.80,243.32 L300.00,243.00 L300.20,243.31 L300.60,244.67 L301.00,246.29 L301.40,247.77 L301.80,248.93 L302.20,249.73 L302.60,250.19 L303.00,250.34 L303.40,250.20 L303.80,249.75 L304.20,248.94 L304.60,247.73 L305.00,246.14 L305.40,244.32 L305.80,242.67 L306.10,242.00 L306.20,242.12 L306.60,243.44 L307.00,245.24 L307.40,246.97 L307.80,248.35 L308.20,249.30 L308.60,249.76 L309.00,249.68 L309.40,248.86 L309.80,246.89 L310.20,243.08 L310.60,236.51 L311.00,226.24 L311.40,211.89 L311.80,194.67 L312.20,178.88 L312.40,174.80 L312.60,178.88 L313.00,194.67 L313.40,211.89 L313.80,226.25 L314.20,236.53 L314.60,243.14 L315.00,247.02 L315.40,249.13 L315.80,250.20 L316.20,250.71 L316.60,250.94 L317.00,251.04 L317.40,251.08 L317.80,251.09 L318.20,251.10 L318.60,251.10 L319.00,251.10 L319.40,251.10 L319.80,251.10 L320.20,251.10 L320.60,251.10 L321.00,251.10 L321.40,251.10 L321.80,251.10 L322.20,251.10 L322.60,251.10 L323.00,251.10 L323.40,251.10 L323.80,251.10 L324.20,251.10 L324.60,251.10 L325.00,251.10 L325.40,251.10 L325.80,251.10 L326.20,251.10 L326.60,251.10 L327.00,251.10 L327.40,251.10 L327.80,251.10 L328.20,251.10 L328.20,251.30 Z" fill="#969696" stroke="none"/>
<path d="M252.20,251.10 L252.60,251.10 L253.00,251.10 L253.40,251.10 L253.80,251.10 L254.20,251.10 L254.60,251.10 L255.00,251.10 L255.40,251.10 L255.80,251.10 L256.20,251.10 L256.60,251.10 L257.00,251.10 L257.40,251.10 L257.80,251.10 L258.20,251.10 L258.60,251.10 L259.00,251.10 L259.40,251.10 L259.80,251.10 L260.20,251.10 L260.60,251.10 L261.00,251.10 L261.40,251.10 L261.80,251.10 L262.20,251.10 L262.60,251.10 L263.00,251.10 L263.40,251.10 L263.80,251.10 L264.20,251.10 L264.60,251.10 L265.00,251.10 L265.40,251.10 L265.80,251.07 L266.20,250.91 L266.60,250.26 L267.00,248.82 L267.40,247.34 L267.60,247.10 L267.80,247.34 L268.20,248.82 L268.60,250.26 L269.00,250.91 L269.40,251.07 L269.80,251.10 L270.20,251.10 L270.60,251.10 L271.00,251.10 L271.40,251.10 L271.80,251.10 L272.20,251.10 L272.60,251.10 L273.00,251.10 L273.40,251.10 L273.80,251.10 L274.20,251.10 L274.60,251.10 L275.00,251.10 L275.40,251.10 L275.80,251.10 L276.20,251.10 L276.60,251.10 L277.00,251.10 L277.40,251.10 L277.80,251.10 L278.20,251.10 L278.60,251.10 L279.00,251.10 L279.40,251.10 L279.80,251.10 L280.20,251.10 L280.60,251.10 L281.00,251.10 L281.40,251.10 L281.80,251.10 L282.20,251.10 L282.60,251.09 L283.00,251.08 L283.40,251.07 L283.80,251.03 L284.20,250.97 L284.60,250.87 L285.00,250.71 L285.40,250.47 L285.80,250.16 L286.20,249.78 L286.60,249.42 L287.00,249.20 L287.40,249.42 L287.80,249.78 L288.20,250.15 L288.60,250.47 L289.00,250.70 L289.40,250.85 L289.80,250.93 L290.20,250.94 L290.60,250.87 L291.00,250.72 L291.40,250.45 L291.80,250.01 L292.20,249.37 L292.60,248.54 L293.00,247.60 L293.40,246.74 L293.70,246.40 L293.80,246.46 L294.20,247.14 L294.60,248.07 L295.00,248.97 L295.40,249.69 L295.80,250.21 L296.20,250.51 L296.60,250.63 L297.00,250.57 L297.40,250.31 L297.80,249.79 L298.20,248.96 L298.60,247.79 L299.00,246.29 L299.40,244.67 L299.80,243.32 L300.00,243.00 L300.20,243.31 L300.60,244.67 L301.00,246.29 L301.40,247.77 L301.80,248.93 L302.20,249.73 L302.60,250.19 L303.00,250.34 L303.40,250.20 L303.80,249.75 L304.20,248.94 L304.60,247.73 L305.00,246.14 L305.40,244.32 L305.80,242.67 L306.10,242.00 L306.20,242.12 L306.60,243.44 L307.00,245.24 L307.40,246.97 L307.80,248.35 L308.20,249.30 L308.60,249.76 L309.00,249.68 L309.40,248.86 L309.80,246.89 L310.20,243.08 L310.60,236.51 L311.00,226.24 L311.40,211.89 L311.80,194.67 L312.20,178.88 L312.40,174.80 L312.60,178.88 L313.00,194.67 L313.40,211.89 L313.80,226.25 L314.20,236.53 L314.60,243.14 L315.00,247.02 L315.40,249.13 L315.80,250.20 L316.20,250.71 L316.60,250.94 L317.00,251.04 L317.40,251.08 L317.80,251.09 L318.20,251.10 L318.60,251.10 L319.00,251.10 L319.40,251.10 L319.80,251.10 L320.20,251.10 L320.60,251.10 L321.00,251.10 L321.40,251.10 L321.80,251.10 L322.20,251.10 L322.60,251.10 L323.00,251.10 L323.40,251.10 L323.80,251.10 L324.20,251.10 L324.60,251.10 L325.00,251.10 L325.40,251.10 L325.80,251.10 L326.20,251.10 L326.60,251.10 L327.00,251.10 L327.40,251.10 L327.80,251.10 L328.20,251.10" fill="none" stroke="#1e1e1e" stroke-width="0.65" stroke-linejoin="round"/>
<path d="M266.0,251.3 L267.3,247.3 L268.1,248.10000000000002 L269.20000000000005,251.3 Z" fill="#222"/>
<line x1="246.39999999999998" y1="172.4" x2="249.2" y2="172.4" stroke="#444" stroke-width="0.6"/>
<text x="245.7" y="173.4" font-family="Liberation Sans, sans-serif" font-size="2.9" fill="#333" text-anchor="end">800</text>
<line x1="246.39999999999998" y1="192.3" x2="249.2" y2="192.3" stroke="#444" stroke-width="0.6"/>
<text x="245.7" y="193.3" font-family="Liberation Sans, sans-serif" font-size="2.9" fill="#333" text-anchor="end">600</text>
<line x1="246.39999999999998" y1="212.2" x2="249.2" y2="212.2" stroke="#444" stroke-width="0.6"/>
<text x="245.7" y="213.2" font-family="Liberation Sans, sans-serif" font-size="2.9" fill="#333" text-anchor="end">400</text>
<line x1="246.39999999999998" y1="231.6" x2="249.2" y2="231.6" stroke="#444" stroke-width="0.6"/>
<text x="245.7" y="232.6" font-family="Liberation Sans, sans-serif" font-size="2.9" fill="#333" text-anchor="end">200</text>
<line x1="246.39999999999998" y1="251.0" x2="249.2" y2="251.0" stroke="#444" stroke-width="0.6"/>
<text x="245.7" y="252.0" font-family="Liberation Sans, sans-serif" font-size="2.9" fill="#333" text-anchor="end">0</text>
<line x1="247.89999999999998" y1="251.00" x2="249.2" y2="251.00" stroke="#666" stroke-width="0.4"/>
<line x1="247.89999999999998" y1="246.03" x2="249.2" y2="246.03" stroke="#666" stroke-width="0.4"/>
<line x1="247.89999999999998" y1="241.05" x2="249.2" y2="241.05" stroke="#666" stroke-width="0.4"/>
<line x1="247.89999999999998" y1="236.08" x2="249.2" y2="236.08" stroke="#666" stroke-width="0.4"/>
<line x1="247.89999999999998" y1="231.10" x2="249.2" y2="231.10" stroke="#666" stroke-width="0.4"/>
<line x1="247.89999999999998" y1="226.13" x2="249.2" y2="226.13" stroke="#666" stroke-width="0.4"/>
<line x1="247.89999999999998" y1="221.15" x2="249.2" y2="221.15" stroke="#666" stroke-width="0.4"/>
<line x1="247.89999999999998" y1="216.18" x2="249.2" y2="216.18" stroke="#666" stroke-width="0.4"/>
<line x1="247.89999999999998" y1="211.20" x2="249.2" y2="211.20" stroke="#666" stroke-width="0.4"/>
<line x1="247.89999999999998" y1="206.23" x2="249.2" y2="206.23" stroke="#666" stroke-width="0.4"/>
<line x1="247.89999999999998" y1="201.25" x2="249.2" y2="201.25" stroke="#666" stroke-width="0.4"/>
<line x1="247.89999999999998" y1="196.28" x2="249.2" y2="196.28" stroke="#666" stroke-width="0.4"/>
<line x1="247.89999999999998" y1="191.30" x2="249.2" y2="191.30" stroke="#666" stroke-width="0.4"/>
<line x1="247.89999999999998" y1="186.33" x2="249.2" y2="186.33" stroke="#666" stroke-width="0.4"/>
<line x1="247.89999999999998" y1="181.35" x2="249.2" y2="181.35" stroke="#666" stroke-width="0.4"/>
<line x1="247.89999999999998" y1="176.38" x2="249.2" y2="176.38" stroke="#666" stroke-width="0.4"/>
<line x1="247.89999999999998" y1="171.40" x2="249.2" y2="171.40" stroke="#666" stroke-width="0.4"/>
<line x1="256.3" y1="251.4" x2="256.3" y2="253.4" stroke="#444" stroke-width="0.55"/>
<text x="256.3" y="258.4" font-family="Liberation Sans, sans-serif" font-size="3" fill="#333" text-anchor="middle">-10<tspan dy="-1.1" font-size="2">3</tspan></text>
<line x1="268.4" y1="251.4" x2="268.4" y2="253.4" stroke="#444" stroke-width="0.55"/>
<text x="268.4" y="258.4" font-family="Liberation Sans, sans-serif" font-size="3" fill="#333" text-anchor="middle">0</text>
<line x1="282.6" y1="251.4" x2="282.6" y2="253.4" stroke="#444" stroke-width="0.55"/>
<text x="282.6" y="258.4" font-family="Liberation Sans, sans-serif" font-size="3" fill="#333" text-anchor="middle">10<tspan dy="-1.1" font-size="2">3</tspan></text>
<line x1="304.6" y1="251.4" x2="304.6" y2="253.4" stroke="#444" stroke-width="0.55"/>
<text x="304.6" y="258.4" font-family="Liberation Sans, sans-serif" font-size="3" fill="#333" text-anchor="middle">10<tspan dy="-1.1" font-size="2">4</tspan></text>
<line x1="324.8" y1="251.4" x2="324.8" y2="253.4" stroke="#444" stroke-width="0.55"/>
<text x="324.8" y="258.4" font-family="Liberation Sans, sans-serif" font-size="3" fill="#333" text-anchor="middle">10<tspan dy="-1.1" font-size="2">5</tspan></text>
<line x1="259.93" y1="251.4" x2="259.93" y2="252.4" stroke="#666" stroke-width="0.35"/>
<line x1="262.11" y1="251.4" x2="262.11" y2="252.4" stroke="#666" stroke-width="0.35"/>
<line x1="263.56" y1="251.4" x2="263.56" y2="252.4" stroke="#666" stroke-width="0.35"/>
<line x1="264.77" y1="251.4" x2="264.77" y2="252.4" stroke="#666" stroke-width="0.35"/>
<line x1="265.74" y1="251.4" x2="265.74" y2="252.4" stroke="#666" stroke-width="0.35"/>
<line x1="266.58" y1="251.4" x2="266.58" y2="252.4" stroke="#666" stroke-width="0.35"/>
<line x1="267.19" y1="251.4" x2="267.19" y2="252.4" stroke="#666" stroke-width="0.35"/>
<line x1="267.79" y1="251.4" x2="267.79" y2="252.4" stroke="#666" stroke-width="0.35"/>
<line x1="272.66" y1="251.4" x2="272.66" y2="252.4" stroke="#666" stroke-width="0.35"/>
<line x1="275.22" y1="251.4" x2="275.22" y2="252.4" stroke="#666" stroke-width="0.35"/>
<line x1="276.92" y1="251.4" x2="276.92" y2="252.4" stroke="#666" stroke-width="0.35"/>
<line x1="278.34" y1="251.4" x2="278.34" y2="252.4" stroke="#666" stroke-width="0.35"/>
<line x1="279.48" y1="251.4" x2="279.48" y2="252.4" stroke="#666" stroke-width="0.35"/>
<line x1="280.47" y1="251.4" x2="280.47" y2="252.4" stroke="#666" stroke-width="0.35"/>
<line x1="281.18" y1="251.4" x2="281.18" y2="252.4" stroke="#666" stroke-width="0.35"/>
<line x1="281.89" y1="251.4" x2="281.89" y2="252.4" stroke="#666" stroke-width="0.35"/>
<line x1="289.20" y1="251.4" x2="289.20" y2="252.4" stroke="#666" stroke-width="0.35"/>
<line x1="293.16" y1="251.4" x2="293.16" y2="252.4" stroke="#666" stroke-width="0.35"/>
<line x1="295.80" y1="251.4" x2="295.80" y2="252.4" stroke="#666" stroke-width="0.35"/>
<line x1="298.00" y1="251.4" x2="298.00" y2="252.4" stroke="#666" stroke-width="0.35"/>
<line x1="299.76" y1="251.4" x2="299.76" y2="252.4" stroke="#666" stroke-width="0.35"/>
<line x1="301.30" y1="251.4" x2="301.30" y2="252.4" stroke="#666" stroke-width="0.35"/>
<line x1="302.40" y1="251.4" x2="302.40" y2="252.4" stroke="#666" stroke-width="0.35"/>
<line x1="303.50" y1="251.4" x2="303.50" y2="252.4" stroke="#666" stroke-width="0.35"/>
<line x1="310.66" y1="251.4" x2="310.66" y2="252.4" stroke="#666" stroke-width="0.35"/>
<line x1="314.30" y1="251.4" x2="314.30" y2="252.4" stroke="#666" stroke-width="0.35"/>
<line x1="316.72" y1="251.4" x2="316.72" y2="252.4" stroke="#666" stroke-width="0.35"/>
<line x1="318.74" y1="251.4" x2="318.74" y2="252.4" stroke="#666" stroke-width="0.35"/>
<line x1="320.36" y1="251.4" x2="320.36" y2="252.4" stroke="#666" stroke-width="0.35"/>
<line x1="321.77" y1="251.4" x2="321.77" y2="252.4" stroke="#666" stroke-width="0.35"/>
<line x1="322.78" y1="251.4" x2="322.78" y2="252.4" stroke="#666" stroke-width="0.35"/>
<line x1="323.79" y1="251.4" x2="323.79" y2="252.4" stroke="#666" stroke-width="0.35"/>
<path d="M277.5,232.5V235.89999999999998M277.5,234.2H308.5M308.5,232.5V235.89999999999998" stroke="#444" stroke-width="0.8" fill="none"/>
<text transform="translate(291.7,225.60000000000002) rotate(0.03) scale(0.98,1)" font-family="Liberation Sans, sans-serif" font-size="9.3" fill="#111" stroke="#111" stroke-width="0.12" text-anchor="middle">27.2</text>
<rect x="347.4" y="170.9" width="81.2" height="80.3" fill="#fff" stroke="#707070" stroke-width="0.7"/>
<path d="M350.40,251.10 L350.40,250.90 L350.80,250.90 L351.20,250.90 L351.60,250.90 L352.00,250.90 L352.40,250.90 L352.80,250.90 L353.20,250.90 L353.60,250.90 L354.00,250.90 L354.40,250.90 L354.80,250.90 L355.20,250.90 L355.60,250.90 L356.00,250.90 L356.40,250.90 L356.80,250.90 L357.20,250.90 L357.60,250.90 L358.00,250.90 L358.40,250.90 L358.80,250.90 L359.20,250.90 L359.60,250.90 L360.00,250.90 L360.40,250.90 L360.80,250.90 L361.20,250.90 L361.60,250.90 L362.00,250.90 L362.40,250.90 L362.80,250.90 L363.20,250.90 L363.60,250.90 L364.00,250.90 L364.40,250.90 L364.80,250.87 L365.20,250.67 L365.60,250.00 L366.00,248.73 L366.40,247.75 L366.50,247.70 L366.80,248.12 L367.20,249.41 L367.60,250.42 L368.00,250.80 L368.40,250.89 L368.80,250.90 L369.20,250.90 L369.60,250.90 L370.00,250.90 L370.40,250.90 L370.80,250.90 L371.20,250.90 L371.60,250.90 L372.00,250.90 L372.40,250.90 L372.80,250.90 L373.20,250.90 L373.60,250.90 L374.00,250.90 L374.40,250.90 L374.80,250.90 L375.20,250.90 L375.60,250.90 L376.00,250.90 L376.40,250.90 L376.80,250.90 L377.20,250.90 L377.60,250.90 L378.00,250.90 L378.40,250.90 L378.80,250.90 L379.20,250.90 L379.60,250.90 L380.00,250.90 L380.40,250.90 L380.80,250.90 L381.20,250.90 L381.60,250.89 L382.00,250.89 L382.40,250.87 L382.80,250.84 L383.20,250.78 L383.60,250.68 L384.00,250.51 L384.40,250.24 L384.80,249.88 L385.20,249.42 L385.60,248.92 L386.00,248.50 L386.20,248.40 L386.40,248.50 L386.80,248.91 L387.20,249.41 L387.60,249.86 L388.00,250.21 L388.40,250.42 L388.80,250.49 L389.20,250.42 L389.60,250.14 L390.00,249.61 L390.40,248.73 L390.80,247.43 L391.20,245.68 L391.60,243.62 L392.00,241.59 L392.40,240.40 L392.80,241.59 L393.20,243.61 L393.60,245.66 L394.00,247.38 L394.40,248.62 L394.80,249.39 L395.20,249.70 L395.60,249.59 L396.00,249.02 L396.40,247.96 L396.80,246.34 L397.20,244.19 L397.60,241.74 L398.00,239.50 L398.30,238.60 L398.40,238.76 L398.80,240.54 L399.20,242.98 L399.60,245.33 L400.00,247.24 L400.40,248.60 L400.80,249.44 L401.20,249.83 L401.60,249.82 L402.00,249.39 L402.40,248.51 L402.80,247.09 L403.20,245.11 L403.60,242.66 L404.00,240.12 L404.40,238.27 L404.50,238.10 L404.80,239.04 L405.20,241.37 L405.60,243.92 L406.00,246.14 L406.40,247.80 L406.80,248.82 L407.20,249.18 L407.60,248.75 L408.00,247.22 L408.40,244.02 L408.80,238.27 L409.20,229.04 L409.60,215.72 L410.00,199.01 L410.40,182.25 L410.70,174.80 L410.80,176.21 L411.20,190.28 L411.60,207.67 L412.00,222.90 L412.40,234.18 L412.80,241.61 L413.20,246.06 L413.60,248.53 L414.00,249.80 L414.40,250.42 L414.80,250.70 L415.20,250.82 L415.60,250.87 L416.00,250.89 L416.40,250.90 L416.80,250.90 L417.20,250.90 L417.60,250.90 L418.00,250.90 L418.40,250.90 L418.80,250.90 L419.20,250.90 L419.60,250.90 L420.00,250.90 L420.40,250.90 L420.80,250.90 L421.20,250.90 L421.60,250.90 L422.00,250.90 L422.40,250.90 L422.80,250.90 L423.20,250.90 L423.60,250.90 L424.00,250.90 L424.40,250.90 L424.80,250.90 L425.20,250.90 L425.60,250.90 L425.60,251.10 Z" fill="#969696" stroke="none"/>
<path d="M350.40,250.90 L350.80,250.90 L351.20,250.90 L351.60,250.90 L352.00,250.90 L352.40,250.90 L352.80,250.90 L353.20,250.90 L353.60,250.90 L354.00,250.90 L354.40,250.90 L354.80,250.90 L355.20,250.90 L355.60,250.90 L356.00,250.90 L356.40,250.90 L356.80,250.90 L357.20,250.90 L357.60,250.90 L358.00,250.90 L358.40,250.90 L358.80,250.90 L359.20,250.90 L359.60,250.90 L360.00,250.90 L360.40,250.90 L360.80,250.90 L361.20,250.90 L361.60,250.90 L362.00,250.90 L362.40,250.90 L362.80,250.90 L363.20,250.90 L363.60,250.90 L364.00,250.90 L364.40,250.90 L364.80,250.87 L365.20,250.67 L365.60,250.00 L366.00,248.73 L366.40,247.75 L366.50,247.70 L366.80,248.12 L367.20,249.41 L367.60,250.42 L368.00,250.80 L368.40,250.89 L368.80,250.90 L369.20,250.90 L369.60,250.90 L370.00,250.90 L370.40,250.90 L370.80,250.90 L371.20,250.90 L371.60,250.90 L372.00,250.90 L372.40,250.90 L372.80,250.90 L373.20,250.90 L373.60,250.90 L374.00,250.90 L374.40,250.90 L374.80,250.90 L375.20,250.90 L375.60,250.90 L376.00,250.90 L376.40,250.90 L376.80,250.90 L377.20,250.90 L377.60,250.90 L378.00,250.90 L378.40,250.90 L378.80,250.90 L379.20,250.90 L379.60,250.90 L380.00,250.90 L380.40,250.90 L380.80,250.90 L381.20,250.90 L381.60,250.89 L382.00,250.89 L382.40,250.87 L382.80,250.84 L383.20,250.78 L383.60,250.68 L384.00,250.51 L384.40,250.24 L384.80,249.88 L385.20,249.42 L385.60,248.92 L386.00,248.50 L386.20,248.40 L386.40,248.50 L386.80,248.91 L387.20,249.41 L387.60,249.86 L388.00,250.21 L388.40,250.42 L388.80,250.49 L389.20,250.42 L389.60,250.14 L390.00,249.61 L390.40,248.73 L390.80,247.43 L391.20,245.68 L391.60,243.62 L392.00,241.59 L392.40,240.40 L392.80,241.59 L393.20,243.61 L393.60,245.66 L394.00,247.38 L394.40,248.62 L394.80,249.39 L395.20,249.70 L395.60,249.59 L396.00,249.02 L396.40,247.96 L396.80,246.34 L397.20,244.19 L397.60,241.74 L398.00,239.50 L398.30,238.60 L398.40,238.76 L398.80,240.54 L399.20,242.98 L399.60,245.33 L400.00,247.24 L400.40,248.60 L400.80,249.44 L401.20,249.83 L401.60,249.82 L402.00,249.39 L402.40,248.51 L402.80,247.09 L403.20,245.11 L403.60,242.66 L404.00,240.12 L404.40,238.27 L404.50,238.10 L404.80,239.04 L405.20,241.37 L405.60,243.92 L406.00,246.14 L406.40,247.80 L406.80,248.82 L407.20,249.18 L407.60,248.75 L408.00,247.22 L408.40,244.02 L408.80,238.27 L409.20,229.04 L409.60,215.72 L410.00,199.01 L410.40,182.25 L410.70,174.80 L410.80,176.21 L411.20,190.28 L411.60,207.67 L412.00,222.90 L412.40,234.18 L412.80,241.61 L413.20,246.06 L413.60,248.53 L414.00,249.80 L414.40,250.42 L414.80,250.70 L415.20,250.82 L415.60,250.87 L416.00,250.89 L416.40,250.90 L416.80,250.90 L417.20,250.90 L417.60,250.90 L418.00,250.90 L418.40,250.90 L418.80,250.90 L419.20,250.90 L419.60,250.90 L420.00,250.90 L420.40,250.90 L420.80,250.90 L421.20,250.90 L421.60,250.90 L422.00,250.90 L422.40,250.90 L422.80,250.90 L423.20,250.90 L423.60,250.90 L424.00,250.90 L424.40,250.90 L424.80,250.90 L425.20,250.90 L425.60,250.90" fill="none" stroke="#1e1e1e" stroke-width="0.65" stroke-linejoin="round"/>
<path d="M364.9,251.1 L366.2,247.9 L367.0,248.70000000000002 L368.1,251.1 Z" fill="#222"/>
<line x1="344.59999999999997" y1="182.7" x2="347.4" y2="182.7" stroke="#444" stroke-width="0.6"/>
<text x="343.9" y="183.7" font-family="Liberation Sans, sans-serif" font-size="2.9" fill="#333" text-anchor="end">600</text>
<line x1="344.59999999999997" y1="205.7" x2="347.4" y2="205.7" stroke="#444" stroke-width="0.6"/>
<text x="343.9" y="206.7" font-family="Liberation Sans, sans-serif" font-size="2.9" fill="#333" text-anchor="end">400</text>
<line x1="344.59999999999997" y1="228.5" x2="347.4" y2="228.5" stroke="#444" stroke-width="0.6"/>
<text x="343.9" y="229.5" font-family="Liberation Sans, sans-serif" font-size="2.9" fill="#333" text-anchor="end">200</text>
<line x1="344.59999999999997" y1="251.0" x2="347.4" y2="251.0" stroke="#444" stroke-width="0.6"/>
<text x="343.9" y="252.0" font-family="Liberation Sans, sans-serif" font-size="2.9" fill="#333" text-anchor="end">0</text>
<line x1="346.09999999999997" y1="251.00" x2="347.4" y2="251.00" stroke="#666" stroke-width="0.4"/>
<line x1="346.09999999999997" y1="245.25" x2="347.4" y2="245.25" stroke="#666" stroke-width="0.4"/>
<line x1="346.09999999999997" y1="239.50" x2="347.4" y2="239.50" stroke="#666" stroke-width="0.4"/>
<line x1="346.09999999999997" y1="233.75" x2="347.4" y2="233.75" stroke="#666" stroke-width="0.4"/>
<line x1="346.09999999999997" y1="228.00" x2="347.4" y2="228.00" stroke="#666" stroke-width="0.4"/>
<line x1="346.09999999999997" y1="222.25" x2="347.4" y2="222.25" stroke="#666" stroke-width="0.4"/>
<line x1="346.09999999999997" y1="216.50" x2="347.4" y2="216.50" stroke="#666" stroke-width="0.4"/>
<line x1="346.09999999999997" y1="210.75" x2="347.4" y2="210.75" stroke="#666" stroke-width="0.4"/>
<line x1="346.09999999999997" y1="205.00" x2="347.4" y2="205.00" stroke="#666" stroke-width="0.4"/>
<line x1="346.09999999999997" y1="199.25" x2="347.4" y2="199.25" stroke="#666" stroke-width="0.4"/>
<line x1="346.09999999999997" y1="193.50" x2="347.4" y2="193.50" stroke="#666" stroke-width="0.4"/>
<line x1="346.09999999999997" y1="187.75" x2="347.4" y2="187.75" stroke="#666" stroke-width="0.4"/>
<line x1="346.09999999999997" y1="182.00" x2="347.4" y2="182.00" stroke="#666" stroke-width="0.4"/>
<line x1="346.09999999999997" y1="176.25" x2="347.4" y2="176.25" stroke="#666" stroke-width="0.4"/>
<line x1="354.4" y1="251.2" x2="354.4" y2="253.2" stroke="#444" stroke-width="0.55"/>
<text x="354.4" y="258.2" font-family="Liberation Sans, sans-serif" font-size="3" fill="#333" text-anchor="middle">-10<tspan dy="-1.1" font-size="2">3</tspan></text>
<line x1="367.3" y1="251.2" x2="367.3" y2="253.2" stroke="#444" stroke-width="0.55"/>
<text x="367.3" y="258.2" font-family="Liberation Sans, sans-serif" font-size="3" fill="#333" text-anchor="middle">0</text>
<line x1="381.5" y1="251.2" x2="381.5" y2="253.2" stroke="#444" stroke-width="0.55"/>
<text x="381.5" y="258.2" font-family="Liberation Sans, sans-serif" font-size="3" fill="#333" text-anchor="middle">10<tspan dy="-1.1" font-size="2">3</tspan></text>
<line x1="403.5" y1="251.2" x2="403.5" y2="253.2" stroke="#444" stroke-width="0.55"/>
<text x="403.5" y="258.2" font-family="Liberation Sans, sans-serif" font-size="3" fill="#333" text-anchor="middle">10<tspan dy="-1.1" font-size="2">4</tspan></text>
<line x1="422.9" y1="251.2" x2="422.9" y2="253.2" stroke="#444" stroke-width="0.55"/>
<text x="422.9" y="258.2" font-family="Liberation Sans, sans-serif" font-size="3" fill="#333" text-anchor="middle">10<tspan dy="-1.1" font-size="2">5</tspan></text>
<line x1="358.27" y1="251.2" x2="358.27" y2="252.2" stroke="#666" stroke-width="0.35"/>
<line x1="360.59" y1="251.2" x2="360.59" y2="252.2" stroke="#666" stroke-width="0.35"/>
<line x1="362.14" y1="251.2" x2="362.14" y2="252.2" stroke="#666" stroke-width="0.35"/>
<line x1="363.43" y1="251.2" x2="363.43" y2="252.2" stroke="#666" stroke-width="0.35"/>
<line x1="364.46" y1="251.2" x2="364.46" y2="252.2" stroke="#666" stroke-width="0.35"/>
<line x1="365.37" y1="251.2" x2="365.37" y2="252.2" stroke="#666" stroke-width="0.35"/>
<line x1="366.01" y1="251.2" x2="366.01" y2="252.2" stroke="#666" stroke-width="0.35"/>
<line x1="366.66" y1="251.2" x2="366.66" y2="252.2" stroke="#666" stroke-width="0.35"/>
<line x1="371.56" y1="251.2" x2="371.56" y2="252.2" stroke="#666" stroke-width="0.35"/>
<line x1="374.12" y1="251.2" x2="374.12" y2="252.2" stroke="#666" stroke-width="0.35"/>
<line x1="375.82" y1="251.2" x2="375.82" y2="252.2" stroke="#666" stroke-width="0.35"/>
<line x1="377.24" y1="251.2" x2="377.24" y2="252.2" stroke="#666" stroke-width="0.35"/>
<line x1="378.38" y1="251.2" x2="378.38" y2="252.2" stroke="#666" stroke-width="0.35"/>
<line x1="379.37" y1="251.2" x2="379.37" y2="252.2" stroke="#666" stroke-width="0.35"/>
<line x1="380.08" y1="251.2" x2="380.08" y2="252.2" stroke="#666" stroke-width="0.35"/>
<line x1="380.79" y1="251.2" x2="380.79" y2="252.2" stroke="#666" stroke-width="0.35"/>
<line x1="388.10" y1="251.2" x2="388.10" y2="252.2" stroke="#666" stroke-width="0.35"/>
<line x1="392.06" y1="251.2" x2="392.06" y2="252.2" stroke="#666" stroke-width="0.35"/>
<line x1="394.70" y1="251.2" x2="394.70" y2="252.2" stroke="#666" stroke-width="0.35"/>
<line x1="396.90" y1="251.2" x2="396.90" y2="252.2" stroke="#666" stroke-width="0.35"/>
<line x1="398.66" y1="251.2" x2="398.66" y2="252.2" stroke="#666" stroke-width="0.35"/>
<line x1="400.20" y1="251.2" x2="400.20" y2="252.2" stroke="#666" stroke-width="0.35"/>
<line x1="401.30" y1="251.2" x2="401.30" y2="252.2" stroke="#666" stroke-width="0.35"/>
<line x1="402.40" y1="251.2" x2="402.40" y2="252.2" stroke="#666" stroke-width="0.35"/>
<line x1="409.32" y1="251.2" x2="409.32" y2="252.2" stroke="#666" stroke-width="0.35"/>
<line x1="412.81" y1="251.2" x2="412.81" y2="252.2" stroke="#666" stroke-width="0.35"/>
<line x1="415.14" y1="251.2" x2="415.14" y2="252.2" stroke="#666" stroke-width="0.35"/>
<line x1="417.08" y1="251.2" x2="417.08" y2="252.2" stroke="#666" stroke-width="0.35"/>
<line x1="418.63" y1="251.2" x2="418.63" y2="252.2" stroke="#666" stroke-width="0.35"/>
<line x1="419.99" y1="251.2" x2="419.99" y2="252.2" stroke="#666" stroke-width="0.35"/>
<line x1="420.96" y1="251.2" x2="420.96" y2="252.2" stroke="#666" stroke-width="0.35"/>
<line x1="421.93" y1="251.2" x2="421.93" y2="252.2" stroke="#666" stroke-width="0.35"/>
<path d="M375.6,232.20000000000002V235.6M375.6,233.9H406.8M406.8,232.20000000000002V235.6" stroke="#444" stroke-width="0.8" fill="none"/>
<text transform="translate(390.0,224.8) rotate(0.03) scale(0.98,1)" font-family="Liberation Sans, sans-serif" font-size="9.3" fill="#111" stroke="#111" stroke-width="0.12" text-anchor="middle">36.0</text>
<text x="0" y="0" font-family="Liberation Sans, sans-serif" font-size="21.6" font-weight="bold" fill="#000" text-anchor="start" transform="translate(5.6,43.1) scale(0.95,1)" stroke="#000" stroke-width="0.5">A</text>
<text x="0" y="0" font-family="Liberation Sans, sans-serif" font-size="14.2" font-weight="bold" fill="#000" text-anchor="start" transform="translate(26.4,69) scale(0.9,1)" stroke="#000" stroke-width="0.25">Treg:</text>
<rect x="99.2" y="63.7" width="7.4" height="1.9" fill="#000"/>
<text x="193.8" y="51" font-family="Liberation Sans, sans-serif" font-size="12" font-weight="bold" fill="#000" text-anchor="middle" stroke="#000" stroke-width="0.15">No peptide</text>
<text x="290.9" y="51.6" font-family="Liberation Sans, sans-serif" font-size="12.1" font-weight="bold" fill="#70ad47" text-anchor="middle" >TM1Drd2</text>
<text x="385.0" y="51.6" font-family="Liberation Sans, sans-serif" font-size="12.1" font-weight="bold" fill="#ff0000" text-anchor="middle" >TM5Drd2</text>
<path d="M197.89999999999998,64.9H204.5M201.2,61.6V68.2" stroke="#000" stroke-width="1.5"/>
<path d="M292.9,64.9H299.5M296.2,61.6V68.2" stroke="#000" stroke-width="1.5"/>
<path d="M384.0,64.9H390.6M387.3,61.6V68.2" stroke="#000" stroke-width="1.5"/>
<text x="0" y="0" font-family="Liberation Sans, sans-serif" font-size="12.9" font-weight="bold" fill="#000" text-anchor="middle" transform="translate(39.4,113.6) rotate(-90)" stroke="#000" stroke-width="0.2">Control</text>
<text x="0" y="0" font-family="Liberation Sans, sans-serif" font-size="13.2" font-weight="bold" fill="#000" text-anchor="middle" transform="translate(39.0,217.6) rotate(-90)" stroke="#000" stroke-width="0.2">Dopamine</text>
<rect x="46.3" y="77.8" width="2.4" height="73.9" fill="#000"/>
<rect x="46.4" y="181.0" width="2.4" height="73.8" fill="#000"/>
<text x="0" y="0" font-family="Liberation Sans, sans-serif" font-size="11.5" font-weight="bold" fill="#000" text-anchor="middle" transform="translate(70.2,206.8) rotate(-90) scale(0.96,1)" stroke="#000" stroke-width="0.2">Counts</text>
<path d="M65.2,241.5V269H387.5" stroke="#000" stroke-width="1.4" fill="none"/>
<path d="M65.2,236.5L62.7,242.2H67.7Z" fill="#000"/>
<path d="M392,269L386.6,266.7V271.3Z" fill="#000"/>
<text x="0" y="0" font-family="Liberation Sans, sans-serif" font-size="12" font-weight="bold" fill="#000" text-anchor="start" transform="translate(403.7,274.8) scale(0.88,1)" stroke="#000" stroke-width="0.3">CTV</text>
<path d="M542.85,68.7V51.4M539.95,51.4H545.75" stroke="#4a4a4a" stroke-width="0.75" fill="none"/>
<rect x="538.1" y="69.3" width="9.50" height="63.00" fill="#000" stroke="#000" stroke-width="1.35"/>
<line x1="542.85" y1="132.3" x2="542.85" y2="136.9" stroke="#000" stroke-width="1.2"/>
<path d="M559.0,98.0V95.6M556.1,95.6H561.9" stroke="#4a4a4a" stroke-width="0.75" fill="none"/>
<rect x="554.4" y="98.6" width="9.20" height="33.70" fill="#000" stroke="#000" stroke-width="1.35"/>
<line x1="559.0" y1="132.3" x2="559.0" y2="136.9" stroke="#000" stroke-width="1.2"/>
<path d="M585.5999999999999,103.0V96.7M582.6999999999999,96.7H588.4999999999999" stroke="#4a4a4a" stroke-width="0.75" fill="none"/>
<rect x="581.0" y="103.6" width="9.20" height="28.70" fill="#0a8a0a" stroke="#000" stroke-width="1.35"/>
<line x1="585.5999999999999" y1="132.3" x2="585.5999999999999" y2="136.9" stroke="#000" stroke-width="1.2"/>
<path d="M601.7,93.2V88.4M598.8000000000001,88.4H604.6" stroke="#4a4a4a" stroke-width="0.75" fill="none"/>
<rect x="597.2" y="93.8" width="9.00" height="38.50" fill="#0a8a0a" stroke="#000" stroke-width="1.35"/>
<line x1="601.7" y1="132.3" x2="601.7" y2="136.9" stroke="#000" stroke-width="1.2"/>
<path d="M628.5,45.8V39.4M625.6,39.4H631.4" stroke="#4a4a4a" stroke-width="0.75" fill="none"/>
<rect x="623.9" y="46.4" width="9.20" height="85.90" fill="#ff2a0a" stroke="#000" stroke-width="1.35"/>
<line x1="628.5" y1="132.3" x2="628.5" y2="136.9" stroke="#000" stroke-width="1.2"/>
<path d="M644.45,128.3V124.3M641.5500000000001,124.3H647.35" stroke="#4a4a4a" stroke-width="0.75" fill="none"/>
<rect x="639.9" y="128.9" width="9.10" height="3.40" fill="#ff2a0a" stroke="#000" stroke-width="1.35"/>
<line x1="644.45" y1="132.3" x2="644.45" y2="136.9" stroke="#000" stroke-width="1.2"/>
<path d="M532.2,10.6V132.3H654.4" stroke="#000" stroke-width="1.3" fill="none"/>
<line x1="527.6" y1="10.6" x2="532.2" y2="10.6" stroke="#000" stroke-width="1.2"/>
<text x="525.1" y="14.3" font-family="Liberation Sans, sans-serif" font-size="10.4" font-weight="bold" fill="#000" text-anchor="end" stroke="#000" stroke-width="0.25">80</text>
<line x1="527.6" y1="41.0" x2="532.2" y2="41.0" stroke="#000" stroke-width="1.2"/>
<text x="525.1" y="44.7" font-family="Liberation Sans, sans-serif" font-size="10.4" font-weight="bold" fill="#000" text-anchor="end" stroke="#000" stroke-width="0.25">60</text>
<line x1="527.6" y1="71.4" x2="532.2" y2="71.4" stroke="#000" stroke-width="1.2"/>
<text x="525.1" y="75.10000000000001" font-family="Liberation Sans, sans-serif" font-size="10.4" font-weight="bold" fill="#000" text-anchor="end" stroke="#000" stroke-width="0.25">40</text>
<line x1="527.6" y1="101.7" x2="532.2" y2="101.7" stroke="#000" stroke-width="1.2"/>
<text x="525.1" y="105.4" font-family="Liberation Sans, sans-serif" font-size="10.4" font-weight="bold" fill="#000" text-anchor="end" stroke="#000" stroke-width="0.25">20</text>
<line x1="527.6" y1="132.3" x2="532.2" y2="132.3" stroke="#000" stroke-width="1.2"/>
<text x="525.1" y="136.0" font-family="Liberation Sans, sans-serif" font-size="10.4" font-weight="bold" fill="#000" text-anchor="end" stroke="#000" stroke-width="0.25">0</text>
<text x="0" y="0" font-family="Liberation Sans, sans-serif" font-size="11.45" font-weight="bold" fill="#000" text-anchor="middle" transform="translate(507.5,70.6) rotate(-90)" stroke="#000" stroke-width="0.25">% Suppression</text>
<text x="0" y="0" font-family="Liberation Sans, sans-serif" font-size="10.6" font-weight="bold" fill="#000" text-anchor="end" transform="translate(543.95,147.5) rotate(-45)" stroke="#000" stroke-width="0.25">Control</text>
<text x="0" y="0" font-family="Liberation Sans, sans-serif" font-size="10.6" font-weight="bold" fill="#000" text-anchor="end" transform="translate(560.1,147.5) rotate(-45)" stroke="#000" stroke-width="0.25">Dopamine</text>
<text x="0" y="0" font-family="Liberation Sans, sans-serif" font-size="10.6" font-weight="bold" fill="#000" text-anchor="end" transform="translate(586.6999999999999,147.5) rotate(-45)" stroke="#000" stroke-width="0.25">Control</text>
<text x="0" y="0" font-family="Liberation Sans, sans-serif" font-size="10.6" font-weight="bold" fill="#000" text-anchor="end" transform="translate(602.8000000000001,147.5) rotate(-45)" stroke="#000" stroke-width="0.25">Dopamine</text>
<text x="0" y="0" font-family="Liberation Sans, sans-serif" font-size="10.6" font-weight="bold" fill="#000" text-anchor="end" transform="translate(629.6,147.5) rotate(-45)" stroke="#000" stroke-width="0.25">Control</text>
<text x="0" y="0" font-family="Liberation Sans, sans-serif" font-size="10.6" font-weight="bold" fill="#000" text-anchor="end" transform="translate(645.5500000000001,147.5) rotate(-45)" stroke="#000" stroke-width="0.25">Dopamine</text>
<path d="M542.8,32.5V25.6H558.8V32.5" stroke="#000" stroke-width="0.7" fill="none"/>
<text x="550.8" y="18.6" font-family="Liberation Sans, sans-serif" font-size="9.7" font-weight="normal" fill="#000" text-anchor="middle" >ns</text>
<path d="M585.6,32.5V25.6H601.6V32.5" stroke="#000" stroke-width="0.7" fill="none"/>
<text x="593.6" y="18.6" font-family="Liberation Sans, sans-serif" font-size="9.7" font-weight="normal" fill="#000" text-anchor="middle" >ns</text>
<path d="M628.4,32.5V25.6H644.4V32.5" stroke="#000" stroke-width="0.7" fill="none"/>
<text x="636.4" y="25.6" font-family="Liberation Sans, sans-serif" font-size="18" font-weight="bold" fill="#000" text-anchor="middle" >**</text>
<rect x="676.7" y="8.0" width="13.6" height="7.20" fill="#000" stroke="#000" stroke-width="1.2"/>
<text x="0" y="0" font-family="Liberation Sans, sans-serif" font-size="9.8" font-weight="normal" fill="#000" text-anchor="start" transform="translate(697.4,15.0) rotate(0.03)" stroke="#000" stroke-width="0.12">No peptide</text>
<rect x="676.7" y="25.0" width="13.6" height="7.20" fill="#0a8a0a" stroke="#000" stroke-width="1.2"/>
<text x="0" y="0" font-family="Liberation Sans, sans-serif" font-size="9.8" font-weight="normal" fill="#000" text-anchor="start" transform="translate(697.4,31.999999999999996) rotate(0.03)" stroke="#000" stroke-width="0.12">TM1Drd2</text>
<rect x="676.7" y="41.9" width="13.6" height="7.30" fill="#ff2a0a" stroke="#000" stroke-width="1.2"/>
<text x="0" y="0" font-family="Liberation Sans, sans-serif" font-size="9.8" font-weight="normal" fill="#000" text-anchor="start" transform="translate(697.4,49.0) rotate(0.03)" stroke="#000" stroke-width="0.12">TM5Drd2</text>
<text x="0" y="0" font-family="Liberation Sans, sans-serif" font-size="21.6" font-weight="bold" fill="#000" text-anchor="start" transform="translate(466.2,42.9) scale(0.81,1)" stroke="#000" stroke-width="0.5">B</text>
<path d="M546.5999999999999,275.2V247.7M543.6999999999999,247.7H549.4999999999999" stroke="#4a4a4a" stroke-width="0.75" fill="none"/>
<rect x="541.9" y="275.8" width="9.40" height="73.60" fill="#000" stroke="#000" stroke-width="1.35"/>
<line x1="546.5999999999999" y1="349.4" x2="546.5999999999999" y2="354.0" stroke="#000" stroke-width="1.2"/>
<path d="M562.55,275.7V260.3M559.65,260.3H565.4499999999999" stroke="#4a4a4a" stroke-width="0.75" fill="none"/>
<rect x="557.8000000000001" y="276.3" width="9.50" height="73.10" fill="#000" stroke="#000" stroke-width="1.35"/>
<line x1="562.55" y1="349.4" x2="562.55" y2="354.0" stroke="#000" stroke-width="1.2"/>
<path d="M589.2,290.6V251.7M586.3000000000001,251.7H592.1" stroke="#4a4a4a" stroke-width="0.75" fill="none"/>
<rect x="584.5" y="291.20000000000005" width="9.40" height="58.20" fill="#0a8a0a" stroke="#000" stroke-width="1.35"/>
<line x1="589.2" y1="349.4" x2="589.2" y2="354.0" stroke="#000" stroke-width="1.2"/>
<path d="M605.45,311.3V301.5M602.5500000000001,301.5H608.35" stroke="#4a4a4a" stroke-width="0.75" fill="none"/>
<rect x="600.7" y="311.90000000000003" width="9.50" height="37.50" fill="#0a8a0a" stroke="#000" stroke-width="1.35"/>
<line x1="605.45" y1="349.4" x2="605.45" y2="354.0" stroke="#000" stroke-width="1.2"/>
<path d="M631.9000000000001,277.6V243.5M629.0000000000001,243.5H634.8000000000001" stroke="#4a4a4a" stroke-width="0.75" fill="none"/>
<rect x="627.3000000000001" y="278.20000000000005" width="9.20" height="71.20" fill="#ff2a0a" stroke="#000" stroke-width="1.35"/>
<line x1="631.9000000000001" y1="349.4" x2="631.9000000000001" y2="354.0" stroke="#000" stroke-width="1.2"/>
<path d="M647.9000000000001,342.5V335.3M645.0000000000001,335.3H650.8000000000001" stroke="#4a4a4a" stroke-width="0.75" fill="none"/>
<rect x="643.3000000000001" y="343.1" width="9.20" height="6.30" fill="#ff2a0a" stroke="#000" stroke-width="1.35"/>
<line x1="647.9000000000001" y1="349.4" x2="647.9000000000001" y2="354.0" stroke="#000" stroke-width="1.2"/>
<path d="M535.9,228.3V349.4H657.9" stroke="#000" stroke-width="1.3" fill="none"/>
<line x1="531.3" y1="228.3" x2="535.9" y2="228.3" stroke="#000" stroke-width="1.2"/>
<text x="528.8" y="232.0" font-family="Liberation Sans, sans-serif" font-size="10.4" font-weight="bold" fill="#000" text-anchor="end" stroke="#000" stroke-width="0.25">800</text>
<line x1="531.3" y1="258.7" x2="535.9" y2="258.7" stroke="#000" stroke-width="1.2"/>
<text x="528.8" y="262.4" font-family="Liberation Sans, sans-serif" font-size="10.4" font-weight="bold" fill="#000" text-anchor="end" stroke="#000" stroke-width="0.25">600</text>
<line x1="531.3" y1="288.8" x2="535.9" y2="288.8" stroke="#000" stroke-width="1.2"/>
<text x="528.8" y="292.5" font-family="Liberation Sans, sans-serif" font-size="10.4" font-weight="bold" fill="#000" text-anchor="end" stroke="#000" stroke-width="0.25">400</text>
<line x1="531.3" y1="318.8" x2="535.9" y2="318.8" stroke="#000" stroke-width="1.2"/>
<text x="528.8" y="322.5" font-family="Liberation Sans, sans-serif" font-size="10.4" font-weight="bold" fill="#000" text-anchor="end" stroke="#000" stroke-width="0.25">200</text>
<line x1="531.3" y1="349.4" x2="535.9" y2="349.4" stroke="#000" stroke-width="1.2"/>
<text x="528.8" y="353.09999999999997" font-family="Liberation Sans, sans-serif" font-size="10.4" font-weight="bold" fill="#000" text-anchor="end" stroke="#000" stroke-width="0.25">0</text>
<text x="0" y="0" font-family="Liberation Sans, sans-serif" font-size="9.8" font-weight="bold" fill="#000" text-anchor="middle" transform="translate(505.8,288.4) rotate(-90)" stroke="#000" stroke-width="0.25">IL-10 pg/mL</text>
<text x="0" y="0" font-family="Liberation Sans, sans-serif" font-size="10.6" font-weight="bold" fill="#000" text-anchor="end" transform="translate(547.6999999999999,364.59999999999997) rotate(-45)" stroke="#000" stroke-width="0.25">Control</text>
<text x="0" y="0" font-family="Liberation Sans, sans-serif" font-size="10.6" font-weight="bold" fill="#000" text-anchor="end" transform="translate(563.65,364.59999999999997) rotate(-45)" stroke="#000" stroke-width="0.25">Dopamine</text>
<text x="0" y="0" font-family="Liberation Sans, sans-serif" font-size="10.6" font-weight="bold" fill="#000" text-anchor="end" transform="translate(590.3000000000001,364.59999999999997) rotate(-45)" stroke="#000" stroke-width="0.25">Control</text>
<text x="0" y="0" font-family="Liberation Sans, sans-serif" font-size="10.6" font-weight="bold" fill="#000" text-anchor="end" transform="translate(606.5500000000001,364.59999999999997) rotate(-45)" stroke="#000" stroke-width="0.25">Dopamine</text>
<text x="0" y="0" font-family="Liberation Sans, sans-serif" font-size="10.6" font-weight="bold" fill="#000" text-anchor="end" transform="translate(633.0000000000001,364.59999999999997) rotate(-45)" stroke="#000" stroke-width="0.25">Control</text>
<text x="0" y="0" font-family="Liberation Sans, sans-serif" font-size="10.6" font-weight="bold" fill="#000" text-anchor="end" transform="translate(649.0000000000001,364.59999999999997) rotate(-45)" stroke="#000" stroke-width="0.25">Dopamine</text>
<path d="M546.6,236.0V228.8H562.6V236.0" stroke="#000" stroke-width="0.7" fill="none"/>
<text x="554.6" y="222.4" font-family="Liberation Sans, sans-serif" font-size="9.6" font-weight="normal" fill="#000" text-anchor="middle" >ns</text>
<path d="M589.2,236.0V228.8H605.2V236.0" stroke="#000" stroke-width="0.7" fill="none"/>
<text x="597.2" y="222.4" font-family="Liberation Sans, sans-serif" font-size="9.6" font-weight="normal" fill="#000" text-anchor="middle" >ns</text>
<path d="M631.9,236.0V228.8H647.9V236.0" stroke="#000" stroke-width="0.7" fill="none"/>
<text x="639.9" y="228.9" font-family="Liberation Sans, sans-serif" font-size="18" font-weight="bold" fill="#000" text-anchor="middle" >*</text>
<rect x="675.2" y="223.1" width="13.6" height="7.10" fill="#000" stroke="#000" stroke-width="1.2"/>
<text x="0" y="0" font-family="Liberation Sans, sans-serif" font-size="9.8" font-weight="normal" fill="#000" text-anchor="start" transform="translate(696.0,230.0) rotate(0.03)" stroke="#000" stroke-width="0.12">No peptide</text>
<rect x="675.2" y="240.0" width="13.6" height="7.00" fill="#0a8a0a" stroke="#000" stroke-width="1.2"/>
<text x="0" y="0" font-family="Liberation Sans, sans-serif" font-size="9.8" font-weight="normal" fill="#000" text-anchor="start" transform="translate(696.0,246.79999999999998) rotate(0.03)" stroke="#000" stroke-width="0.12">TM1Drd2</text>
<rect x="675.2" y="256.90000000000003" width="13.6" height="7.20" fill="#ff2a0a" stroke="#000" stroke-width="1.2"/>
<text x="0" y="0" font-family="Liberation Sans, sans-serif" font-size="9.8" font-weight="normal" fill="#000" text-anchor="start" transform="translate(696.0,263.9) rotate(0.03)" stroke="#000" stroke-width="0.12">TM5Drd2</text>
<text x="0" y="0" font-family="Liberation Sans, sans-serif" font-size="21.2" font-weight="bold" fill="#000" text-anchor="start" transform="translate(468.1,229.0) scale(0.83,1)" stroke="#000" stroke-width="0.5">C</text>
</svg>
</body></html>
